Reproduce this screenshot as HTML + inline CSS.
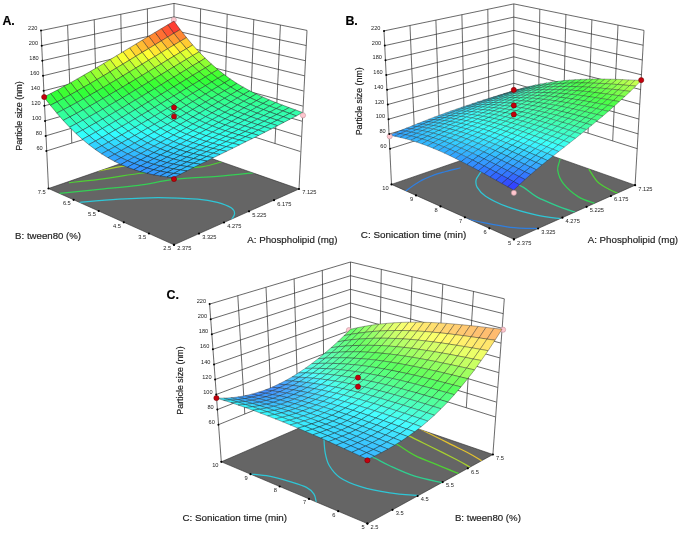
<!DOCTYPE html>
<html><head><meta charset="utf-8"><title>Response surface plots</title>
<style>html,body{margin:0;padding:0;background:#fff}svg{display:block;font-family:"Liberation Sans",sans-serif}</style>
</head><body>
<svg width="685" height="534" viewBox="0 0 685 534">
<defs><filter id="soft" x="0" y="0" width="685" height="534" filterUnits="userSpaceOnUse"><feGaussianBlur stdDeviation="0.45"/></filter></defs>
<rect width="685" height="534" fill="#fff"/>
<g filter="url(#soft)">
<g stroke="#2a2a2a" stroke-width="0.7" fill="none">
<line x1="41.0" y1="30.6" x2="48.5" y2="188.5" />
<line x1="307.0" y1="30.4" x2="299.0" y2="189.0" />
<line x1="67.6" y1="25.2" x2="71.8" y2="143.1" />
<line x1="280.4" y1="25.0" x2="275.0" y2="143.5" />
<line x1="94.2" y1="19.7" x2="97.3" y2="135.2" />
<line x1="253.8" y1="19.6" x2="249.7" y2="135.5" />
<line x1="120.8" y1="14.3" x2="122.8" y2="127.3" />
<line x1="227.2" y1="14.2" x2="224.4" y2="127.5" />
<line x1="147.4" y1="8.8" x2="148.3" y2="119.4" />
<line x1="200.6" y1="8.8" x2="199.1" y2="119.5" />
<line x1="174.0" y1="3.4" x2="173.8" y2="145.3" />
<line x1="46.3" y1="151.0" x2="173.8" y2="111.5" />
<line x1="173.8" y1="111.5" x2="300.3" y2="151.5" />
<line x1="45.6" y1="135.9" x2="173.8" y2="98.0" />
<line x1="173.8" y1="98.0" x2="301.1" y2="136.4" />
<line x1="45.0" y1="120.9" x2="173.9" y2="84.5" />
<line x1="173.9" y1="84.5" x2="302.0" y2="121.2" />
<line x1="44.3" y1="105.8" x2="173.9" y2="71.0" />
<line x1="173.9" y1="71.0" x2="302.8" y2="106.1" />
<line x1="43.6" y1="90.8" x2="173.9" y2="57.4" />
<line x1="173.9" y1="57.4" x2="303.6" y2="91.0" />
<line x1="43.0" y1="75.8" x2="173.9" y2="43.9" />
<line x1="173.9" y1="43.9" x2="304.5" y2="75.8" />
<line x1="42.3" y1="60.7" x2="174.0" y2="30.4" />
<line x1="174.0" y1="30.4" x2="305.3" y2="60.7" />
<line x1="41.7" y1="45.7" x2="174.0" y2="16.9" />
<line x1="174.0" y1="16.9" x2="306.2" y2="45.5" />
<line x1="41.0" y1="30.6" x2="174.0" y2="3.4" />
<line x1="174.0" y1="3.4" x2="307.0" y2="30.4" />
</g>
<polygon points="174.0,244.8 299.0,189.0 173.8,145.3 48.5,188.5" fill="#656565" stroke="#2a2a2a" stroke-width="0.6" stroke-linejoin="round"/>
<clipPath id="clipA"><polygon points="174.0,244.8 299.0,189.0 173.8,145.3 48.5,188.5"/></clipPath>
<g clip-path="url(#clipA)">
<path d="M79.4,202.5 C86.0,201.9 105.7,199.9 118.8,199.1 C131.9,198.3 145.0,197.5 158.2,197.5 C171.3,197.5 187.8,198.3 197.7,199.1 C207.6,199.9 211.8,200.9 217.4,202.3 C223.0,203.8 228.3,205.9 231.2,207.8 C234.1,209.7 234.5,211.5 234.6,213.5 C234.7,215.5 232.1,218.6 231.6,219.6" fill="none" stroke="#2fc6d6" stroke-width="1.25" stroke-linecap="round"/>
<path d="M59.7,193.4 C66.3,192.7 86.0,190.7 99.1,189.3 C112.2,188.0 126.0,187.0 138.5,185.3 C151.0,183.7 160.8,180.9 174.0,179.4 C187.2,177.9 204.3,177.4 217.4,176.3 C230.5,175.2 246.9,173.4 252.8,172.8" fill="none" stroke="#35cf55" stroke-width="1.25" stroke-linecap="round"/>
<path d="M69.6,182.6 C74.5,182.1 87.6,180.9 99.1,179.4 C110.6,177.9 126.7,175.2 138.5,173.5 C150.3,171.8 159.5,170.1 170.0,169.0 C180.5,167.9 193.0,168.0 201.6,166.8 C210.2,165.6 218.0,162.8 221.3,162.0" fill="none" stroke="#4fd035" stroke-width="1.25" stroke-linecap="round"/>
<path d="M99.0,170.9 C102.3,170.2 112.8,167.8 118.8,166.8 C124.8,165.8 128.1,165.5 135.0,165.0 C141.9,164.5 155.8,164.2 160.0,164.0" fill="none" stroke="#a6d02f" stroke-width="1.25" stroke-linecap="round"/>
</g>
<circle cx="174.0" cy="244.8" r="1.1" fill="#000"/>
<circle cx="174.0" cy="244.8" r="1.1" fill="#000"/>
<circle cx="199.0" cy="233.6" r="1.1" fill="#000"/>
<circle cx="148.9" cy="233.5" r="1.1" fill="#000"/>
<circle cx="224.0" cy="222.5" r="1.1" fill="#000"/>
<circle cx="123.8" cy="222.3" r="1.1" fill="#000"/>
<circle cx="249.0" cy="211.3" r="1.1" fill="#000"/>
<circle cx="98.7" cy="211.0" r="1.1" fill="#000"/>
<circle cx="274.0" cy="200.2" r="1.1" fill="#000"/>
<circle cx="73.6" cy="199.8" r="1.1" fill="#000"/>
<circle cx="299.0" cy="189.0" r="1.1" fill="#000"/>
<circle cx="48.5" cy="188.5" r="1.1" fill="#000"/>
<circle cx="173.8" cy="19.9" r="2.6" fill="#ffc6ce" stroke="#b58c94" stroke-width="0.5"/>
<g stroke="#1a1a1a" stroke-opacity="0.85" stroke-width="0.5" stroke-linejoin="round">
<polygon points="173.9,33.3 180.2,29.6 174.0,21.1 167.7,24.8" fill="#ff3d32"/>
<polygon points="167.6,37.1 173.9,33.3 167.7,24.8 161.4,28.6" fill="#ff5633"/>
<polygon points="180.2,41.3 186.5,37.6 180.2,29.6 173.9,33.3" fill="#ff8733"/>
<polygon points="161.3,40.9 167.6,37.1 161.4,28.6 155.0,32.4" fill="#ff6f32"/>
<polygon points="173.9,45.0 180.2,41.3 173.9,33.3 167.6,37.1" fill="#ff9f33"/>
<polygon points="186.5,48.7 192.7,45.0 186.5,37.6 180.2,41.3" fill="#ffcb32"/>
<polygon points="167.6,48.8 173.9,45.0 167.6,37.1 161.3,40.9" fill="#ffb733"/>
<polygon points="180.2,52.4 186.5,48.7 180.2,41.3 173.9,45.0" fill="#ffe133"/>
<polygon points="155.0,44.7 161.3,40.9 155.0,32.4 148.7,36.2" fill="#ff8832"/>
<polygon points="192.7,55.6 199.0,51.9 192.7,45.0 186.5,48.7" fill="#f6ff32"/>
<polygon points="148.6,48.6 155.0,44.7 148.7,36.2 142.3,40.1" fill="#ffa232"/>
<polygon points="161.3,52.6 167.6,48.8 161.3,40.9 155.0,44.7" fill="#ffcf32"/>
<polygon points="173.9,56.2 180.2,52.4 173.9,45.0 167.6,48.8" fill="#fff832"/>
<polygon points="186.4,59.3 192.7,55.6 186.5,48.7 180.2,52.4" fill="#e0ff32"/>
<polygon points="199.0,62.0 205.2,58.2 199.0,51.9 192.7,55.6" fill="#bfff32"/>
<polygon points="154.9,56.5 161.3,52.6 155.0,44.7 148.6,48.6" fill="#ffe733"/>
<polygon points="192.7,65.7 199.0,62.0 192.7,55.6 186.4,59.3" fill="#abff33"/>
<polygon points="142.2,52.4 148.6,48.6 142.3,40.1 135.9,44.0" fill="#ffbb32"/>
<polygon points="167.5,60.0 173.9,56.2 167.6,48.8 161.3,52.6" fill="#efff32"/>
<polygon points="180.2,63.1 186.4,59.3 180.2,52.4 173.9,56.2" fill="#cbff32"/>
<polygon points="205.3,67.9 211.5,64.1 205.2,58.2 199.0,62.0" fill="#8fff32"/>
<polygon points="135.8,56.3 142.2,52.4 135.9,44.0 129.5,47.9" fill="#ffd432"/>
<polygon points="148.5,60.3 154.9,56.5 148.6,48.6 142.2,52.4" fill="#fffe33"/>
<polygon points="161.2,63.9 167.5,60.0 161.3,52.6 154.9,56.5" fill="#d8ff32"/>
<polygon points="173.8,66.9 180.2,63.1 173.9,56.2 167.5,60.0" fill="#b5ff32"/>
<polygon points="186.4,69.5 192.7,65.7 186.4,59.3 180.2,63.1" fill="#97ff32"/>
<polygon points="199.0,71.6 205.3,67.9 199.0,62.0 192.7,65.7" fill="#7cff33"/>
<polygon points="211.6,73.3 217.8,69.6 211.5,64.1 205.3,67.9" fill="#64ff32"/>
<polygon points="129.4,60.2 135.8,56.3 129.5,47.9 123.0,51.8" fill="#ffec32"/>
<polygon points="142.1,64.2 148.5,60.3 142.2,52.4 135.8,56.3" fill="#e7ff33"/>
<polygon points="154.8,67.7 161.2,63.9 154.9,56.5 148.5,60.3" fill="#c1ff32"/>
<polygon points="167.5,70.7 173.8,66.9 167.5,60.0 161.2,63.9" fill="#a0ff32"/>
<polygon points="180.1,73.3 186.4,69.5 180.2,63.1 173.8,66.9" fill="#82ff32"/>
<polygon points="192.7,75.4 199.0,71.6 192.7,65.7 186.4,69.5" fill="#68ff32"/>
<polygon points="205.3,77.0 211.6,73.3 205.3,67.9 199.0,71.6" fill="#55ff32"/>
<polygon points="217.9,78.3 224.2,74.6 217.8,69.6 211.6,73.3" fill="#47ff32"/>
<polygon points="135.7,68.1 142.1,64.2 135.8,56.3 129.4,60.2" fill="#cfff33"/>
<polygon points="148.4,71.6 154.8,67.7 148.5,60.3 142.1,64.2" fill="#abff32"/>
<polygon points="173.8,77.1 180.1,73.3 173.8,66.9 167.5,70.7" fill="#6eff32"/>
<polygon points="199.1,80.8 205.3,77.0 199.0,71.6 192.7,75.4" fill="#47ff32"/>
<polygon points="211.7,82.0 217.9,78.3 211.6,73.3 205.3,77.0" fill="#39ff33"/>
<polygon points="122.9,64.1 129.4,60.2 123.0,51.8 116.6,55.7" fill="#f8ff32"/>
<polygon points="161.1,74.6 167.5,70.7 161.2,63.9 154.8,67.7" fill="#8aff32"/>
<polygon points="186.4,79.2 192.7,75.4 186.4,69.5 180.1,73.3" fill="#58ff32"/>
<polygon points="224.3,82.9 230.5,79.2 224.2,74.6 217.9,78.3" fill="#32ff37"/>
<polygon points="116.4,68.0 122.9,64.1 116.6,55.7 110.1,59.6" fill="#e0ff32"/>
<polygon points="129.3,72.0 135.7,68.1 129.4,60.2 122.9,64.1" fill="#b8ff33"/>
<polygon points="142.0,75.5 148.4,71.6 142.1,64.2 135.7,68.1" fill="#94ff32"/>
<polygon points="154.7,78.4 161.1,74.6 154.8,67.7 148.4,71.6" fill="#74ff32"/>
<polygon points="167.4,80.9 173.8,77.1 167.5,70.7 161.1,74.6" fill="#5bff32"/>
<polygon points="180.1,83.0 186.4,79.2 180.1,73.3 173.8,77.1" fill="#49ff32"/>
<polygon points="192.8,84.6 199.1,80.8 192.7,75.4 186.4,79.2" fill="#39ff32"/>
<polygon points="205.4,85.8 211.7,82.0 205.3,77.0 199.1,80.8" fill="#32ff39"/>
<polygon points="218.0,86.6 224.3,82.9 217.9,78.3 211.7,82.0" fill="#32ff44"/>
<polygon points="230.7,87.1 236.9,83.4 230.5,79.2 224.3,82.9" fill="#32ff4d"/>
<polygon points="122.8,75.9 129.3,72.0 122.9,64.1 116.4,68.0" fill="#a0ff33"/>
<polygon points="161.1,84.8 167.4,80.9 161.1,74.6 154.7,78.4" fill="#4bff32"/>
<polygon points="186.4,88.4 192.8,84.6 186.4,79.2 180.1,83.0" fill="#32ff3b"/>
<polygon points="224.4,90.8 230.7,87.1 224.3,82.9 218.0,86.6" fill="#33ff59"/>
<polygon points="110.0,71.9 116.4,68.0 110.1,59.6 103.6,63.5" fill="#c8ff32"/>
<polygon points="135.6,79.3 142.0,75.5 135.7,68.1 129.3,72.0" fill="#7dff32"/>
<polygon points="148.3,82.3 154.7,78.4 148.4,71.6 142.0,75.5" fill="#60ff32"/>
<polygon points="173.8,86.8 180.1,83.0 173.8,77.1 167.4,80.9" fill="#39ff32"/>
<polygon points="199.1,89.5 205.4,85.8 199.1,80.8 192.8,84.6" fill="#32ff47"/>
<polygon points="211.8,90.3 218.0,86.6 211.7,82.0 205.4,85.8" fill="#32ff51"/>
<polygon points="237.1,90.9 243.3,87.2 236.9,83.4 230.7,87.1" fill="#32ff5f"/>
<polygon points="103.4,75.8 110.0,71.9 103.6,63.5 97.1,67.4" fill="#b0ff32"/>
<polygon points="116.3,79.8 122.8,75.9 116.4,68.0 110.0,71.9" fill="#89ff33"/>
<polygon points="129.1,83.2 135.6,79.3 129.3,72.0 122.8,75.9" fill="#67ff32"/>
<polygon points="141.9,86.1 148.3,82.3 142.0,75.5 135.6,79.3" fill="#4fff32"/>
<polygon points="154.7,88.6 161.1,84.8 154.7,78.4 148.3,82.3" fill="#3bff32"/>
<polygon points="167.4,90.6 173.8,86.8 167.4,80.9 161.1,84.8" fill="#32ff3b"/>
<polygon points="180.1,92.2 186.4,88.4 180.1,83.0 173.8,86.8" fill="#32ff49"/>
<polygon points="192.8,93.3 199.1,89.5 192.8,84.6 186.4,88.4" fill="#32ff55"/>
<polygon points="205.5,94.1 211.8,90.3 205.4,85.8 199.1,89.5" fill="#32ff5f"/>
<polygon points="218.1,94.5 224.4,90.8 218.0,86.6 211.8,90.3" fill="#32ff66"/>
<polygon points="230.8,94.6 237.1,90.9 230.7,87.1 224.4,90.8" fill="#33ff6b"/>
<polygon points="243.5,94.4 249.7,90.8 243.3,87.2 237.1,90.9" fill="#32ff6f"/>
<polygon points="96.9,79.6 103.4,75.8 97.1,67.4 90.5,71.3" fill="#9aff32"/>
<polygon points="109.8,83.6 116.3,79.8 110.0,71.9 103.4,75.8" fill="#73ff33"/>
<polygon points="122.6,87.1 129.1,83.2 122.8,75.9 116.3,79.8" fill="#55ff32"/>
<polygon points="135.4,90.0 141.9,86.1 135.6,79.3 129.1,83.2" fill="#3eff32"/>
<polygon points="148.2,92.4 154.7,88.6 148.3,82.3 141.9,86.1" fill="#32ff3a"/>
<polygon points="161.0,94.4 167.4,90.6 161.1,84.8 154.7,88.6" fill="#32ff4b"/>
<polygon points="173.7,96.0 180.1,92.2 173.8,86.8 167.4,90.6" fill="#32ff58"/>
<polygon points="186.4,97.1 192.8,93.3 186.4,88.4 180.1,92.2" fill="#32ff63"/>
<polygon points="199.1,97.8 205.5,94.1 199.1,89.5 192.8,93.3" fill="#32ff6c"/>
<polygon points="211.9,98.2 218.1,94.5 211.8,90.3 205.5,94.1" fill="#32ff73"/>
<polygon points="224.6,98.3 230.8,94.6 224.4,90.8 218.1,94.5" fill="#32ff77"/>
<polygon points="237.3,98.1 243.5,94.4 237.1,90.9 230.8,94.6" fill="#33ff7a"/>
<polygon points="250.0,97.7 256.2,94.0 249.7,90.8 243.5,94.4" fill="#32ff7c"/>
<polygon points="90.3,83.5 96.9,79.6 90.5,71.3 83.9,75.1" fill="#83ff32"/>
<polygon points="103.2,87.5 109.8,83.6 103.4,75.8 96.9,79.6" fill="#5eff33"/>
<polygon points="116.1,90.9 122.6,87.1 116.3,79.8 109.8,83.6" fill="#44ff32"/>
<polygon points="141.8,96.3 148.2,92.4 141.9,86.1 135.4,90.0" fill="#32ff4a"/>
<polygon points="167.3,99.8 173.7,96.0 167.4,90.6 161.0,94.4" fill="#32ff67"/>
<polygon points="180.1,100.9 186.4,97.1 180.1,92.2 173.7,96.0" fill="#32ff71"/>
<polygon points="205.5,102.0 211.9,98.2 205.5,94.1 199.1,97.8" fill="#32ff7f"/>
<polygon points="231.0,101.8 237.3,98.1 230.8,94.6 224.6,98.3" fill="#32ff86"/>
<polygon points="243.7,101.3 250.0,97.7 243.5,94.4 237.3,98.1" fill="#33ff87"/>
<polygon points="256.5,100.7 262.7,97.0 256.2,94.0 250.0,97.7" fill="#32ff86"/>
<polygon points="129.0,93.8 135.4,90.0 129.1,83.2 122.6,87.1" fill="#32ff37"/>
<polygon points="154.6,98.3 161.0,94.4 154.7,88.6 148.2,92.4" fill="#32ff5a"/>
<polygon points="192.8,101.6 199.1,97.8 192.8,93.3 186.4,97.1" fill="#32ff79"/>
<polygon points="218.3,102.0 224.6,98.3 218.1,94.5 211.9,98.2" fill="#32ff83"/>
<polygon points="83.7,87.2 90.3,83.5 83.9,75.1 77.3,78.9" fill="#6dff32"/>
<polygon points="96.7,91.3 103.2,87.5 96.9,79.6 90.3,83.5" fill="#4dff33"/>
<polygon points="109.6,94.7 116.1,90.9 109.8,83.6 103.2,87.5" fill="#33ff32"/>
<polygon points="122.5,97.7 129.0,93.8 122.6,87.1 116.1,90.9" fill="#32ff48"/>
<polygon points="135.3,100.1 141.8,96.3 135.4,90.0 129.0,93.8" fill="#32ff5a"/>
<polygon points="148.1,102.1 154.6,98.3 148.2,92.4 141.8,96.3" fill="#32ff69"/>
<polygon points="160.9,103.6 167.3,99.8 161.0,94.4 154.6,98.3" fill="#32ff76"/>
<polygon points="173.7,104.7 180.1,100.9 173.7,96.0 167.3,99.8" fill="#32ff80"/>
<polygon points="186.4,105.4 192.8,101.6 186.4,97.1 180.1,100.9" fill="#32ff87"/>
<polygon points="199.2,105.7 205.5,102.0 199.1,97.8 192.8,101.6" fill="#32ff8c"/>
<polygon points="212.0,105.7 218.3,102.0 211.9,98.2 205.5,102.0" fill="#32ff90"/>
<polygon points="224.7,105.5 231.0,101.8 224.6,98.3 218.3,102.0" fill="#32ff92"/>
<polygon points="237.5,105.0 243.7,101.3 237.3,98.1 231.0,101.8" fill="#32ff92"/>
<polygon points="250.3,104.3 256.5,100.7 250.0,97.7 243.7,101.3" fill="#33ff91"/>
<polygon points="263.0,103.5 269.3,99.9 262.7,97.0 256.5,100.7" fill="#32ff8f"/>
<polygon points="90.1,95.0 96.7,91.3 90.3,83.5 83.7,87.2" fill="#3dff33"/>
<polygon points="154.5,107.4 160.9,103.6 154.6,98.3 148.1,102.1" fill="#32ff85"/>
<polygon points="192.8,109.5 199.2,105.7 192.8,101.6 186.4,105.4" fill="#32ff99"/>
<polygon points="256.8,107.1 263.0,103.5 256.5,100.7 250.3,104.3" fill="#33ff99"/>
<polygon points="77.1,91.0 83.7,87.2 77.3,78.9 70.7,82.7" fill="#5bff32"/>
<polygon points="103.0,98.5 109.6,94.7 103.2,87.5 96.7,91.3" fill="#32ff42"/>
<polygon points="115.9,101.5 122.5,97.7 116.1,90.9 109.6,94.7" fill="#32ff58"/>
<polygon points="128.8,103.9 135.3,100.1 129.0,93.8 122.5,97.7" fill="#32ff6a"/>
<polygon points="141.7,105.9 148.1,102.1 141.8,96.3 135.3,100.1" fill="#32ff79"/>
<polygon points="167.3,108.5 173.7,104.7 167.3,99.8 160.9,103.6" fill="#32ff8e"/>
<polygon points="180.1,109.2 186.4,105.4 180.1,100.9 173.7,104.7" fill="#32ff95"/>
<polygon points="205.6,109.5 212.0,105.7 205.5,102.0 199.2,105.7" fill="#32ff9c"/>
<polygon points="218.4,109.2 224.7,105.5 218.3,102.0 212.0,105.7" fill="#32ff9d"/>
<polygon points="231.2,108.7 237.5,105.0 231.0,101.8 224.7,105.5" fill="#32ff9d"/>
<polygon points="244.0,107.9 250.3,104.3 243.7,101.3 237.5,105.0" fill="#32ff9c"/>
<polygon points="269.6,106.1 275.8,102.5 269.3,99.9 263.0,103.5" fill="#32ff96"/>
<polygon points="83.5,98.8 90.1,95.0 83.7,87.2 77.1,91.0" fill="#32ff38"/>
<polygon points="263.4,109.6 269.6,106.1 263.0,103.5 256.8,107.1" fill="#32ffa0"/>
<polygon points="70.5,94.7 77.1,91.0 70.7,82.7 64.0,86.3" fill="#4bff32"/>
<polygon points="96.5,102.3 103.0,98.5 96.7,91.3 90.1,95.0" fill="#32ff52"/>
<polygon points="109.4,105.3 115.9,101.5 109.6,94.7 103.0,98.5" fill="#32ff67"/>
<polygon points="122.3,107.8 128.8,103.9 122.5,97.7 115.9,101.5" fill="#32ff79"/>
<polygon points="135.2,109.7 141.7,105.9 135.3,100.1 128.8,103.9" fill="#32ff88"/>
<polygon points="148.0,111.2 154.5,107.4 148.1,102.1 141.7,105.9" fill="#32ff93"/>
<polygon points="160.8,112.3 167.3,108.5 160.9,103.6 154.5,107.4" fill="#32ff9c"/>
<polygon points="173.7,112.9 180.1,109.2 173.7,104.7 167.3,108.5" fill="#32ffa3"/>
<polygon points="186.5,113.2 192.8,109.5 186.4,105.4 180.1,109.2" fill="#32ffa7"/>
<polygon points="199.3,113.2 205.6,109.5 199.2,105.7 192.8,109.5" fill="#32ffa9"/>
<polygon points="212.1,112.9 218.4,109.2 212.0,105.7 205.6,109.5" fill="#32ffa9"/>
<polygon points="224.9,112.3 231.2,108.7 224.7,105.5 218.4,109.2" fill="#32ffa8"/>
<polygon points="237.7,111.6 244.0,107.9 237.5,105.0 231.2,108.7" fill="#32ffa6"/>
<polygon points="250.6,110.6 256.8,107.1 250.3,104.3 244.0,107.9" fill="#32ffa3"/>
<polygon points="276.2,108.6 282.4,105.1 275.8,102.5 269.6,106.1" fill="#32ff9c"/>
<polygon points="63.8,98.3 70.5,94.7 64.0,86.3 57.4,90.0" fill="#3cff33"/>
<polygon points="76.9,102.5 83.5,98.8 77.1,91.0 70.5,94.7" fill="#33ff47"/>
<polygon points="89.9,106.0 96.5,102.3 90.1,95.0 83.5,98.8" fill="#32ff61"/>
<polygon points="102.8,109.1 109.4,105.3 103.0,98.5 96.5,102.3" fill="#32ff77"/>
<polygon points="115.8,111.5 122.3,107.8 115.9,101.5 109.4,105.3" fill="#32ff89"/>
<polygon points="128.7,113.5 135.2,109.7 128.8,103.9 122.3,107.8" fill="#32ff97"/>
<polygon points="141.5,115.0 148.0,111.2 141.7,105.9 135.2,109.7" fill="#32ffa2"/>
<polygon points="154.4,116.1 160.8,112.3 154.5,107.4 148.0,111.2" fill="#32ffab"/>
<polygon points="167.2,116.7 173.7,112.9 167.3,108.5 160.8,112.3" fill="#32ffb0"/>
<polygon points="180.1,117.0 186.5,113.2 180.1,109.2 173.7,112.9" fill="#32ffb4"/>
<polygon points="192.9,116.9 199.3,113.2 192.8,109.5 186.5,113.2" fill="#32ffb6"/>
<polygon points="205.7,116.6 212.1,112.9 205.6,109.5 199.3,113.2" fill="#32ffb5"/>
<polygon points="218.6,116.0 224.9,112.3 218.4,109.2 212.1,112.9" fill="#32ffb4"/>
<polygon points="231.4,115.2 237.7,111.6 231.2,108.7 224.9,112.3" fill="#32ffb1"/>
<polygon points="244.3,114.2 250.6,110.6 244.0,107.9 237.7,111.6" fill="#32ffae"/>
<polygon points="257.1,113.2 263.4,109.6 256.8,107.1 250.6,110.6" fill="#32ffaa"/>
<polygon points="270.0,112.1 276.2,108.6 269.6,106.1 263.4,109.6" fill="#33ffa5"/>
<polygon points="282.9,111.0 289.1,107.6 282.4,105.1 276.2,108.6" fill="#33ffa1"/>
<polygon points="57.1,101.8 63.8,98.3 57.4,90.0 50.7,93.5" fill="#32ff37"/>
<polygon points="70.2,106.1 76.9,102.5 70.5,94.7 63.8,98.3" fill="#33ff56"/>
<polygon points="83.2,109.7 89.9,106.0 83.5,98.8 76.9,102.5" fill="#32ff70"/>
<polygon points="96.2,112.8 102.8,109.1 96.5,102.3 89.9,106.0" fill="#32ff86"/>
<polygon points="109.2,115.3 115.8,111.5 109.4,105.3 102.8,109.1" fill="#32ff98"/>
<polygon points="122.1,117.3 128.7,113.5 122.3,107.8 115.8,111.5" fill="#32ffa6"/>
<polygon points="135.0,118.8 141.5,115.0 135.2,109.7 128.7,113.5" fill="#32ffb1"/>
<polygon points="147.9,119.9 154.4,116.1 148.0,111.2 141.5,115.0" fill="#32ffb9"/>
<polygon points="173.6,120.7 180.1,117.0 173.7,112.9 167.2,116.7" fill="#32ffc1"/>
<polygon points="199.4,120.3 205.7,116.6 199.3,113.2 192.9,116.9" fill="#32ffc2"/>
<polygon points="212.2,119.6 218.6,116.0 212.1,112.9 205.7,116.6" fill="#32ffc0"/>
<polygon points="225.1,118.8 231.4,115.2 224.9,112.3 218.6,116.0" fill="#32ffbd"/>
<polygon points="238.0,117.8 244.3,114.2 237.7,111.6 231.4,115.2" fill="#32ffb9"/>
<polygon points="250.9,116.7 257.1,113.2 250.6,110.6 244.3,114.2" fill="#32ffb4"/>
<polygon points="263.8,115.6 270.0,112.1 263.4,109.6 257.1,113.2" fill="#32ffaf"/>
<polygon points="276.7,114.5 282.9,111.0 276.2,108.6 270.0,112.1" fill="#33ffaa"/>
<polygon points="289.6,113.4 295.8,110.0 289.1,107.6 282.9,111.0" fill="#32ffa5"/>
<polygon points="160.8,120.5 167.2,116.7 160.8,112.3 154.4,116.1" fill="#32ffbe"/>
<polygon points="186.5,120.7 192.9,116.9 186.5,113.2 180.1,117.0" fill="#32ffc2"/>
<polygon points="50.4,105.3 57.1,101.8 50.7,93.5 43.9,97.0" fill="#32ff44"/>
<polygon points="63.5,109.6 70.2,106.1 63.8,98.3 57.1,101.8" fill="#32ff64"/>
<polygon points="76.6,113.4 83.2,109.7 76.9,102.5 70.2,106.1" fill="#33ff7f"/>
<polygon points="89.6,116.5 96.2,112.8 89.9,106.0 83.2,109.7" fill="#32ff95"/>
<polygon points="102.6,119.0 109.2,115.3 102.8,109.1 96.2,112.8" fill="#32ffa7"/>
<polygon points="115.6,121.0 122.1,117.3 115.8,111.5 109.2,115.3" fill="#32ffb5"/>
<polygon points="128.5,122.6 135.0,118.8 128.7,113.5 122.1,117.3" fill="#32ffc0"/>
<polygon points="141.4,123.6 147.9,119.9 141.5,115.0 135.0,118.8" fill="#32ffc7"/>
<polygon points="154.3,124.3 160.8,120.5 154.4,116.1 147.9,119.9" fill="#32ffcc"/>
<polygon points="167.2,124.5 173.6,120.7 167.2,116.7 160.8,120.5" fill="#32ffcf"/>
<polygon points="180.1,124.4 186.5,120.7 180.1,117.0 173.6,120.7" fill="#32ffcf"/>
<polygon points="192.9,124.0 199.4,120.3 192.9,116.9 186.5,120.7" fill="#32ffce"/>
<polygon points="205.8,123.3 212.2,119.6 205.7,116.6 199.4,120.3" fill="#32ffcb"/>
<polygon points="218.7,122.4 225.1,118.8 218.6,116.0 212.2,119.6" fill="#32ffc8"/>
<polygon points="231.6,121.4 238.0,117.8 231.4,115.2 225.1,118.8" fill="#32ffc3"/>
<polygon points="244.6,120.2 250.9,116.7 244.3,114.2 238.0,117.8" fill="#32ffbe"/>
<polygon points="257.5,119.1 263.8,115.6 257.1,113.2 250.9,116.7" fill="#32ffb9"/>
<polygon points="270.4,117.9 276.7,114.5 270.0,112.1 263.8,115.6" fill="#33ffb3"/>
<polygon points="283.3,116.8 289.6,113.4 282.9,111.0 276.7,114.5" fill="#32ffae"/>
<polygon points="296.3,115.9 302.5,112.5 295.8,110.0 289.6,113.4" fill="#32ffaa"/>
<polygon points="56.8,113.1 63.5,109.6 57.1,101.8 50.4,105.3" fill="#33ff72"/>
<polygon points="121.9,126.3 128.5,122.6 122.1,117.3 115.6,121.0" fill="#32ffce"/>
<polygon points="225.3,125.0 231.6,121.4 225.1,118.8 218.7,122.4" fill="#32ffce"/>
<polygon points="290.0,119.2 296.3,115.9 289.6,113.4 283.3,116.8" fill="#33ffb3"/>
<polygon points="69.9,116.9 76.6,113.4 70.2,106.1 63.5,109.6" fill="#32ff8d"/>
<polygon points="83.0,120.1 89.6,116.5 83.2,109.7 76.6,113.4" fill="#32ffa4"/>
<polygon points="96.0,122.7 102.6,119.0 96.2,112.8 89.6,116.5" fill="#32ffb6"/>
<polygon points="109.0,124.8 115.6,121.0 109.2,115.3 102.6,119.0" fill="#32ffc4"/>
<polygon points="134.9,127.4 141.4,123.6 135.0,118.8 128.5,122.6" fill="#32ffd6"/>
<polygon points="147.8,128.0 154.3,124.3 147.9,119.9 141.4,123.6" fill="#32ffda"/>
<polygon points="160.7,128.2 167.2,124.5 160.8,120.5 154.3,124.3" fill="#32ffdc"/>
<polygon points="173.6,128.1 180.1,124.4 173.6,120.7 167.2,124.5" fill="#32ffdc"/>
<polygon points="186.5,127.7 192.9,124.0 186.5,120.7 180.1,124.4" fill="#32ffdb"/>
<polygon points="199.4,127.0 205.8,123.3 199.4,120.3 192.9,124.0" fill="#32ffd7"/>
<polygon points="212.4,126.0 218.7,122.4 212.2,119.6 205.8,123.3" fill="#32ffd3"/>
<polygon points="238.2,123.8 244.6,120.2 238.0,117.8 231.6,121.4" fill="#32ffc8"/>
<polygon points="251.2,122.5 257.5,119.1 250.9,116.7 244.6,120.2" fill="#32ffc2"/>
<polygon points="264.1,121.3 270.4,117.9 263.8,115.6 257.5,119.1" fill="#32ffbd"/>
<polygon points="277.1,120.2 283.3,116.8 276.7,114.5 270.4,117.9" fill="#32ffb7"/>
<polygon points="63.2,120.4 69.9,116.9 63.5,109.6 56.8,113.1" fill="#32ff9b"/>
<polygon points="89.3,126.4 96.0,122.7 89.6,116.5 83.0,120.1" fill="#33ffc4"/>
<polygon points="115.3,130.0 121.9,126.3 115.6,121.0 109.0,124.8" fill="#32ffdd"/>
<polygon points="128.3,131.1 134.9,127.4 128.5,122.6 121.9,126.3" fill="#32ffe4"/>
<polygon points="154.2,132.0 160.7,128.2 154.3,124.3 147.8,128.0" fill="#32ffea"/>
<polygon points="193.0,130.6 199.4,127.0 192.9,124.0 186.5,127.7" fill="#32ffe3"/>
<polygon points="218.9,128.5 225.3,125.0 218.7,122.4 212.4,126.0" fill="#32ffd9"/>
<polygon points="231.9,127.3 238.2,123.8 231.6,121.4 225.3,125.0" fill="#32ffd3"/>
<polygon points="257.8,124.7 264.1,121.3 257.5,119.1 251.2,122.5" fill="#33ffc6"/>
<polygon points="283.8,122.4 290.0,119.2 283.3,116.8 277.1,120.2" fill="#32ffbb"/>
<polygon points="76.3,123.7 83.0,120.1 76.6,113.4 69.9,116.9" fill="#32ffb2"/>
<polygon points="102.4,128.5 109.0,124.8 102.6,119.0 96.0,122.7" fill="#32ffd2"/>
<polygon points="141.3,131.8 147.8,128.0 141.4,123.6 134.9,127.4" fill="#32ffe8"/>
<polygon points="167.1,131.8 173.6,128.1 167.2,124.5 160.7,128.2" fill="#32ffea"/>
<polygon points="180.1,131.4 186.5,127.7 180.1,124.4 173.6,128.1" fill="#32ffe7"/>
<polygon points="206.0,129.7 212.4,126.0 205.8,123.3 199.4,127.0" fill="#32ffdf"/>
<polygon points="244.9,126.0 251.2,122.5 244.6,120.2 238.2,123.8" fill="#32ffcc"/>
<polygon points="270.8,123.5 277.1,120.2 270.4,117.9 264.1,121.3" fill="#32ffc0"/>
<polygon points="108.7,133.7 115.3,130.0 109.0,124.8 102.4,128.5" fill="#32ffeb"/>
<polygon points="147.7,135.7 154.2,132.0 147.8,128.0 141.3,131.8" fill="#32fff8"/>
<polygon points="199.5,133.3 206.0,129.7 199.4,127.0 193.0,130.6" fill="#32ffea"/>
<polygon points="238.5,129.5 244.9,126.0 238.2,123.8 231.9,127.3" fill="#32ffd6"/>
<polygon points="69.6,127.2 76.3,123.7 69.9,116.9 63.2,120.4" fill="#32ffbf"/>
<polygon points="82.7,130.0 89.3,126.4 83.0,120.1 76.3,123.7" fill="#32ffd2"/>
<polygon points="95.7,132.1 102.4,128.5 96.0,122.7 89.3,126.4" fill="#33ffe1"/>
<polygon points="121.7,134.9 128.3,131.1 121.9,126.3 115.3,130.0" fill="#32fff2"/>
<polygon points="134.7,135.5 141.3,131.8 134.9,127.4 128.3,131.1" fill="#32fff6"/>
<polygon points="160.6,135.6 167.1,131.8 160.7,128.2 154.2,132.0" fill="#32fff7"/>
<polygon points="173.6,135.1 180.1,131.4 173.6,128.1 167.1,131.8" fill="#32fff4"/>
<polygon points="186.6,134.3 193.0,130.6 186.5,127.7 180.1,131.4" fill="#32fff0"/>
<polygon points="212.5,132.1 218.9,128.5 212.4,126.0 206.0,129.7" fill="#32ffe4"/>
<polygon points="225.5,130.8 231.9,127.3 225.3,125.0 218.9,128.5" fill="#32ffdd"/>
<polygon points="251.5,128.1 257.8,124.7 251.2,122.5 244.9,126.0" fill="#33ffcf"/>
<polygon points="264.5,126.8 270.8,123.5 264.1,121.3 257.8,124.7" fill="#32ffc9"/>
<polygon points="277.5,125.7 283.8,122.4 277.1,120.2 270.8,123.5" fill="#32ffc4"/>
<polygon points="76.0,133.5 82.7,130.0 76.3,123.7 69.6,127.2" fill="#32ffe0"/>
<polygon points="102.1,137.4 108.7,133.7 102.4,128.5 95.7,132.1" fill="#32fffa"/>
<polygon points="115.1,138.5 121.7,134.9 115.3,130.0 108.7,133.7" fill="#32fcff"/>
<polygon points="141.1,139.4 147.7,135.7 141.3,131.8 134.7,135.5" fill="#32f8ff"/>
<polygon points="154.1,139.3 160.6,135.6 154.2,132.0 147.7,135.7" fill="#32f9ff"/>
<polygon points="167.1,138.8 173.6,135.1 167.1,131.8 160.6,135.6" fill="#32fcff"/>
<polygon points="180.1,138.0 186.6,134.3 180.1,131.4 173.6,135.1" fill="#32fffc"/>
<polygon points="193.1,136.9 199.5,133.3 193.0,130.6 186.6,134.3" fill="#32fff6"/>
<polygon points="206.1,135.7 212.5,132.1 206.0,129.7 199.5,133.3" fill="#32ffef"/>
<polygon points="232.1,132.9 238.5,129.5 231.9,127.3 225.5,130.8" fill="#32ffe0"/>
<polygon points="245.2,131.5 251.5,128.1 244.9,126.0 238.5,129.5" fill="#33ffd9"/>
<polygon points="271.3,128.9 277.5,125.7 270.8,123.5 264.5,126.8" fill="#32ffcc"/>
<polygon points="89.1,135.7 95.7,132.1 89.3,126.4 82.7,130.0" fill="#32ffef"/>
<polygon points="128.1,139.2 134.7,135.5 128.3,131.1 121.7,134.9" fill="#32f9ff"/>
<polygon points="219.1,134.3 225.5,130.8 218.9,128.5 212.5,132.1" fill="#32ffe8"/>
<polygon points="258.2,130.1 264.5,126.8 257.8,124.7 251.5,128.1" fill="#32ffd2"/>
<polygon points="82.4,139.3 89.1,135.7 82.7,130.0 76.0,133.5" fill="#32fffc"/>
<polygon points="95.4,141.0 102.1,137.4 95.7,132.1 89.1,135.7" fill="#32f5ff"/>
<polygon points="108.5,142.2 115.1,138.5 108.7,133.7 102.1,137.4" fill="#33eeff"/>
<polygon points="121.5,142.9 128.1,139.2 121.7,134.9 115.1,138.5" fill="#32ebff"/>
<polygon points="134.6,143.1 141.1,139.4 134.7,135.5 128.1,139.2" fill="#32eaff"/>
<polygon points="147.6,143.0 154.1,139.3 147.7,135.7 141.1,139.4" fill="#32ebff"/>
<polygon points="160.6,142.4 167.1,138.8 160.6,135.6 154.1,139.3" fill="#32efff"/>
<polygon points="173.6,141.6 180.1,138.0 173.6,135.1 167.1,138.8" fill="#32f5ff"/>
<polygon points="186.6,140.5 193.1,136.9 186.6,134.3 180.1,138.0" fill="#32fbff"/>
<polygon points="199.6,139.3 206.1,135.7 199.5,133.3 193.1,136.9" fill="#32fffa"/>
<polygon points="212.7,137.8 219.1,134.3 212.5,132.1 206.1,135.7" fill="#32fff2"/>
<polygon points="225.7,136.4 232.1,132.9 225.5,130.8 219.1,134.3" fill="#32ffea"/>
<polygon points="238.8,134.9 245.2,131.5 238.5,129.5 232.1,132.9" fill="#33ffe2"/>
<polygon points="251.9,133.4 258.2,130.1 251.5,128.1 245.2,131.5" fill="#32ffdb"/>
<polygon points="264.9,132.2 271.3,128.9 264.5,126.8 258.2,130.1" fill="#32ffd4"/>
<polygon points="88.8,144.6 95.4,141.0 89.1,135.7 82.4,139.3" fill="#32e8ff"/>
<polygon points="258.6,135.4 264.9,132.2 258.2,130.1 251.9,133.4" fill="#32ffdd"/>
<polygon points="101.8,145.8 108.5,142.2 102.1,137.4 95.4,141.0" fill="#32e0ff"/>
<polygon points="114.9,146.6 121.5,142.9 115.1,138.5 108.5,142.2" fill="#32ddff"/>
<polygon points="128.0,146.8 134.6,143.1 128.1,139.2 121.5,142.9" fill="#32dcff"/>
<polygon points="141.0,146.7 147.6,143.0 141.1,139.4 134.6,143.1" fill="#32deff"/>
<polygon points="154.0,146.1 160.6,142.4 154.1,139.3 147.6,143.0" fill="#32e2ff"/>
<polygon points="167.1,145.3 173.6,141.6 167.1,138.8 160.6,142.4" fill="#32e8ff"/>
<polygon points="180.1,144.2 186.6,140.5 180.1,138.0 173.6,141.6" fill="#32efff"/>
<polygon points="193.2,142.8 199.6,139.3 193.1,136.9 186.6,140.5" fill="#32f7ff"/>
<polygon points="206.2,141.4 212.7,137.8 206.1,135.7 199.6,139.3" fill="#32fffd"/>
<polygon points="219.3,139.8 225.7,136.4 219.1,134.3 212.7,137.8" fill="#32fff4"/>
<polygon points="232.4,138.2 238.8,134.9 232.1,132.9 225.7,136.4" fill="#33ffec"/>
<polygon points="245.5,136.7 251.9,133.4 245.2,131.5 238.8,134.9" fill="#32ffe4"/>
<polygon points="95.2,149.4 101.8,145.8 95.4,141.0 88.8,144.6" fill="#32d3ff"/>
<polygon points="121.3,150.5 128.0,146.8 121.5,142.9 114.9,146.6" fill="#33ceff"/>
<polygon points="147.5,149.8 154.0,146.1 147.6,143.0 141.0,146.7" fill="#32d5ff"/>
<polygon points="160.5,148.9 167.1,145.3 160.6,142.4 154.0,146.1" fill="#32dbff"/>
<polygon points="173.6,147.8 180.1,144.2 173.6,141.6 167.1,145.3" fill="#32e3ff"/>
<polygon points="186.7,146.4 193.2,142.8 186.6,140.5 180.1,144.2" fill="#32ecff"/>
<polygon points="199.8,144.9 206.2,141.4 199.6,139.3 193.2,142.8" fill="#32f5ff"/>
<polygon points="226.0,141.6 232.4,138.2 225.7,136.4 219.3,139.8" fill="#33fff5"/>
<polygon points="252.2,138.6 258.6,135.4 251.9,133.4 245.5,136.7" fill="#32ffe5"/>
<polygon points="108.3,150.2 114.9,146.6 108.5,142.2 101.8,145.8" fill="#32cfff"/>
<polygon points="134.4,150.4 141.0,146.7 134.6,143.1 128.0,146.8" fill="#32d0ff"/>
<polygon points="212.9,143.3 219.3,139.8 212.7,137.8 206.2,141.4" fill="#32fffe"/>
<polygon points="239.1,140.0 245.5,136.7 238.8,134.9 232.4,138.2" fill="#32ffed"/>
<polygon points="167.0,151.4 173.6,147.8 167.1,145.3 160.5,148.9" fill="#32d7ff"/>
<polygon points="180.1,150.0 186.7,146.4 180.1,144.2 173.6,147.8" fill="#32e0ff"/>
<polygon points="101.6,153.8 108.3,150.2 101.8,145.8 95.2,149.4" fill="#32c1ff"/>
<polygon points="114.7,154.2 121.3,150.5 114.9,146.6 108.3,150.2" fill="#32c0ff"/>
<polygon points="127.8,154.0 134.4,150.4 128.0,146.8 121.3,150.5" fill="#33c3ff"/>
<polygon points="140.9,153.5 147.5,149.8 141.0,146.7 134.4,150.4" fill="#32c7ff"/>
<polygon points="153.9,152.6 160.5,148.9 154.0,146.1 147.5,149.8" fill="#32ceff"/>
<polygon points="193.3,148.4 199.8,144.9 193.2,142.8 186.7,146.4" fill="#32eaff"/>
<polygon points="206.4,146.7 212.9,143.3 206.2,141.4 199.8,144.9" fill="#32f4ff"/>
<polygon points="219.5,145.0 226.0,141.6 219.3,139.8 212.9,143.3" fill="#33feff"/>
<polygon points="232.7,143.3 239.1,140.0 232.4,138.2 226.0,141.6" fill="#32fff6"/>
<polygon points="245.8,141.7 252.2,138.6 245.5,136.7 239.1,140.0" fill="#32ffed"/>
<polygon points="108.0,157.8 114.7,154.2 108.3,150.2 101.6,153.8" fill="#32b2ff"/>
<polygon points="134.2,157.1 140.9,153.5 134.4,150.4 127.8,154.0" fill="#33baff"/>
<polygon points="147.3,156.2 153.9,152.6 147.5,149.8 140.9,153.5" fill="#32c1ff"/>
<polygon points="160.5,155.0 167.0,151.4 160.5,148.9 153.9,152.6" fill="#32caff"/>
<polygon points="173.6,153.6 180.1,150.0 173.6,147.8 167.0,151.4" fill="#32d4ff"/>
<polygon points="186.7,151.9 193.3,148.4 186.7,146.4 180.1,150.0" fill="#32dfff"/>
<polygon points="199.9,150.2 206.4,146.7 199.8,144.9 193.3,148.4" fill="#32e9ff"/>
<polygon points="213.0,148.4 219.5,145.0 212.9,143.3 206.4,146.7" fill="#33f4ff"/>
<polygon points="239.4,144.9 245.8,141.7 239.1,140.0 232.7,143.3" fill="#32fff6"/>
<polygon points="121.1,157.7 127.8,154.0 121.3,150.5 114.7,154.2" fill="#32b5ff"/>
<polygon points="226.2,146.6 232.7,143.3 226.0,141.6 219.5,145.0" fill="#32feff"/>
<polygon points="114.4,161.3 121.1,157.7 114.7,154.2 108.0,157.8" fill="#32a7ff"/>
<polygon points="127.6,160.8 134.2,157.1 127.8,154.0 121.1,157.7" fill="#32acff"/>
<polygon points="140.7,159.9 147.3,156.2 140.9,153.5 134.2,157.1" fill="#33b4ff"/>
<polygon points="153.9,158.6 160.5,155.0 153.9,152.6 147.3,156.2" fill="#32bdff"/>
<polygon points="167.0,157.1 173.6,153.6 167.0,151.4 160.5,155.0" fill="#32c8ff"/>
<polygon points="180.2,155.5 186.7,151.9 180.1,150.0 173.6,153.6" fill="#32d3ff"/>
<polygon points="193.4,153.6 199.9,150.2 193.3,148.4 186.7,151.9" fill="#32dfff"/>
<polygon points="206.5,151.7 213.0,148.4 206.4,146.7 199.9,150.2" fill="#33eaff"/>
<polygon points="219.7,149.9 226.2,146.6 219.5,145.0 213.0,148.4" fill="#32f5ff"/>
<polygon points="233.0,148.1 239.4,144.9 232.7,143.3 226.2,146.6" fill="#32fffe"/>
<polygon points="120.9,164.4 127.6,160.8 121.1,157.7 114.4,161.3" fill="#329eff"/>
<polygon points="134.1,163.5 140.7,159.9 134.2,157.1 127.6,160.8" fill="#32a6ff"/>
<polygon points="147.2,162.3 153.9,158.6 147.3,156.2 140.7,159.9" fill="#33b0ff"/>
<polygon points="160.4,160.7 167.0,157.1 160.5,155.0 153.9,158.6" fill="#32bbff"/>
<polygon points="173.6,159.0 180.2,155.5 173.6,153.6 167.0,157.1" fill="#32c7ff"/>
<polygon points="186.8,157.1 193.4,153.6 186.7,151.9 180.2,155.5" fill="#32d4ff"/>
<polygon points="200.0,155.1 206.5,151.7 199.9,150.2 193.4,153.6" fill="#33e0ff"/>
<polygon points="213.2,153.2 219.7,149.9 213.0,148.4 206.5,151.7" fill="#32ecff"/>
<polygon points="226.5,151.3 233.0,148.1 226.2,146.6 219.7,149.9" fill="#32f6ff"/>
<polygon points="127.4,167.2 134.1,163.5 127.6,160.8 120.9,164.4" fill="#3299ff"/>
<polygon points="140.6,165.9 147.2,162.3 140.7,159.9 134.1,163.5" fill="#32a3ff"/>
<polygon points="153.8,164.3 160.4,160.7 153.9,158.6 147.2,162.3" fill="#33aeff"/>
<polygon points="167.0,162.6 173.6,159.0 167.0,157.1 160.4,160.7" fill="#32bbff"/>
<polygon points="180.2,160.6 186.8,157.1 180.2,155.5 173.6,159.0" fill="#32c8ff"/>
<polygon points="193.5,158.5 200.0,155.1 193.4,153.6 186.8,157.1" fill="#33d5ff"/>
<polygon points="206.7,156.5 213.2,153.2 206.5,151.7 200.0,155.1" fill="#32e2ff"/>
<polygon points="220.0,154.5 226.5,151.3 219.7,149.9 213.2,153.2" fill="#32edff"/>
<polygon points="133.9,169.6 140.6,165.9 134.1,163.5 127.4,167.2" fill="#3295ff"/>
<polygon points="147.1,168.0 153.8,164.3 147.2,162.3 140.6,165.9" fill="#32a1ff"/>
<polygon points="200.2,159.8 206.7,156.5 200.0,155.1 193.5,158.5" fill="#32d8ff"/>
<polygon points="213.4,157.7 220.0,154.5 213.2,153.2 206.7,156.5" fill="#32e5ff"/>
<polygon points="160.4,166.1 167.0,162.6 160.4,160.7 153.8,164.3" fill="#32afff"/>
<polygon points="173.6,164.1 180.2,160.6 173.6,159.0 167.0,162.6" fill="#32bdff"/>
<polygon points="186.9,162.0 193.5,158.5 186.8,157.1 180.2,160.6" fill="#32cbff"/>
<polygon points="140.4,171.6 147.1,168.0 140.6,165.9 133.9,169.6" fill="#3294ff"/>
<polygon points="206.9,161.0 213.4,157.7 206.7,156.5 200.2,159.8" fill="#32dbff"/>
<polygon points="153.7,169.7 160.4,166.1 153.8,164.3 147.1,168.0" fill="#32a2ff"/>
<polygon points="167.0,167.6 173.6,164.1 167.0,162.6 160.4,166.1" fill="#33b1ff"/>
<polygon points="180.3,165.4 186.9,162.0 180.2,160.6 173.6,164.1" fill="#33c0ff"/>
<polygon points="193.6,163.2 200.2,159.8 193.5,158.5 186.9,162.0" fill="#32ceff"/>
<polygon points="147.0,173.3 153.7,169.7 147.1,168.0 140.4,171.6" fill="#3295ff"/>
<polygon points="160.3,171.2 167.0,167.6 160.4,166.1 153.7,169.7" fill="#32a5ff"/>
<polygon points="173.6,168.9 180.3,165.4 173.6,164.1 167.0,167.6" fill="#33b4ff"/>
<polygon points="187.0,166.5 193.6,163.2 186.9,162.0 180.3,165.4" fill="#32c3ff"/>
<polygon points="200.3,164.2 206.9,161.0 200.2,159.8 193.6,163.2" fill="#32d2ff"/>
<polygon points="167.0,172.4 173.6,168.9 167.0,167.6 160.3,171.2" fill="#32a8ff"/>
<polygon points="180.3,170.0 187.0,166.5 180.3,165.4 173.6,168.9" fill="#32b9ff"/>
<polygon points="153.6,174.8 160.3,171.2 153.7,169.7 147.0,173.3" fill="#3298ff"/>
<polygon points="193.7,167.5 200.3,164.2 193.6,163.2 187.0,166.5" fill="#32c8ff"/>
<polygon points="160.3,175.9 167.0,172.4 160.3,171.2 153.6,174.8" fill="#339cff"/>
<polygon points="173.6,173.4 180.3,170.0 173.6,168.9 167.0,172.4" fill="#32aeff"/>
<polygon points="187.0,170.8 193.7,167.5 187.0,166.5 180.3,170.0" fill="#33beff"/>
<polygon points="167.0,176.9 173.6,173.4 167.0,172.4 160.3,175.9" fill="#32a2ff"/>
<polygon points="180.4,174.2 187.0,170.8 180.3,170.0 173.6,173.4" fill="#32b4ff"/>
<polygon points="173.7,177.6 180.4,174.2 173.6,173.4 167.0,176.9" fill="#32a9ff"/>
</g>
<circle cx="174.0" cy="179.0" r="2.6" fill="#c4000a" stroke="#6a0000" stroke-width="0.5"/>
<circle cx="303.0" cy="115.3" r="2.6" fill="#ffc6ce" stroke="#b58c94" stroke-width="0.5"/>
<circle cx="44.2" cy="97.0" r="2.6" fill="#c4000a" stroke="#6a0000" stroke-width="0.5"/>
<circle cx="174.0" cy="107.5" r="2.6" fill="#c4000a" stroke="#6a0000" stroke-width="0.5"/>
<circle cx="174.0" cy="116.5" r="2.6" fill="#c4000a" stroke="#6a0000" stroke-width="0.5"/>
<circle cx="46.3" cy="151.0" r="1.0" fill="#000"/>
<text x="42.7" y="150.1" font-size="5.6" text-anchor="end" fill="#222">60</text>
<circle cx="45.6" cy="135.9" r="1.0" fill="#000"/>
<text x="42.0" y="135.0" font-size="5.6" text-anchor="end" fill="#222">80</text>
<circle cx="45.0" cy="120.9" r="1.0" fill="#000"/>
<text x="41.4" y="120.0" font-size="5.6" text-anchor="end" fill="#222">100</text>
<circle cx="44.3" cy="105.8" r="1.0" fill="#000"/>
<text x="40.7" y="104.9" font-size="5.6" text-anchor="end" fill="#222">120</text>
<circle cx="43.6" cy="90.8" r="1.0" fill="#000"/>
<text x="40.0" y="89.9" font-size="5.6" text-anchor="end" fill="#222">140</text>
<circle cx="43.0" cy="75.8" r="1.0" fill="#000"/>
<text x="39.4" y="74.8" font-size="5.6" text-anchor="end" fill="#222">160</text>
<circle cx="42.3" cy="60.7" r="1.0" fill="#000"/>
<text x="38.7" y="59.8" font-size="5.6" text-anchor="end" fill="#222">180</text>
<circle cx="41.7" cy="45.7" r="1.0" fill="#000"/>
<text x="38.1" y="44.8" font-size="5.6" text-anchor="end" fill="#222">200</text>
<circle cx="41.0" cy="30.6" r="1.0" fill="#000"/>
<text x="37.4" y="29.7" font-size="5.6" text-anchor="end" fill="#222">220</text>
<text x="177.2" y="250.1" font-size="5.7" fill="#222">2.375</text>
<text x="202.2" y="238.9" font-size="5.7" fill="#222">3.325</text>
<text x="227.2" y="227.8" font-size="5.7" fill="#222">4.275</text>
<text x="252.2" y="216.6" font-size="5.7" fill="#222">5.225</text>
<text x="277.2" y="205.5" font-size="5.7" fill="#222">6.175</text>
<text x="302.2" y="194.3" font-size="5.7" fill="#222">7.125</text>
<text x="171.2" y="250.1" font-size="5.7" text-anchor="end" fill="#222">2.5</text>
<text x="146.1" y="238.8" font-size="5.7" text-anchor="end" fill="#222">3.5</text>
<text x="121.0" y="227.6" font-size="5.7" text-anchor="end" fill="#222">4.5</text>
<text x="95.9" y="216.3" font-size="5.7" text-anchor="end" fill="#222">5.5</text>
<text x="70.8" y="205.1" font-size="5.7" text-anchor="end" fill="#222">6.5</text>
<text x="45.7" y="193.8" font-size="5.7" text-anchor="end" fill="#222">7.5</text>
<g stroke="#2a2a2a" stroke-width="0.7" fill="none">
<line x1="384.0" y1="30.9" x2="391.5" y2="184.4" />
<line x1="644.0" y1="30.4" x2="635.1" y2="185.2" />
<line x1="410.0" y1="25.5" x2="414.8" y2="140.9" />
<line x1="618.0" y1="25.1" x2="612.7" y2="140.9" />
<line x1="435.9" y1="20.1" x2="439.6" y2="133.1" />
<line x1="591.9" y1="19.8" x2="588.0" y2="133.1" />
<line x1="461.9" y1="14.7" x2="464.3" y2="125.4" />
<line x1="565.9" y1="14.5" x2="563.2" y2="125.4" />
<line x1="487.8" y1="9.3" x2="489.0" y2="117.6" />
<line x1="539.8" y1="9.2" x2="538.5" y2="117.6" />
<line x1="513.8" y1="3.9" x2="513.7" y2="142.4" />
<line x1="390.1" y1="148.7" x2="513.7" y2="109.8" />
<line x1="513.7" y1="109.8" x2="637.4" y2="148.7" />
<line x1="389.3" y1="134.0" x2="513.7" y2="96.6" />
<line x1="513.7" y1="96.6" x2="638.2" y2="133.9" />
<line x1="388.6" y1="119.2" x2="513.8" y2="83.3" />
<line x1="513.8" y1="83.3" x2="639.1" y2="119.1" />
<line x1="387.8" y1="104.5" x2="513.8" y2="70.1" />
<line x1="513.8" y1="70.1" x2="639.9" y2="104.3" />
<line x1="387.1" y1="89.8" x2="513.8" y2="56.8" />
<line x1="513.8" y1="56.8" x2="640.7" y2="89.6" />
<line x1="386.3" y1="75.1" x2="513.8" y2="43.6" />
<line x1="513.8" y1="43.6" x2="641.5" y2="74.8" />
<line x1="385.5" y1="60.3" x2="513.8" y2="30.4" />
<line x1="513.8" y1="30.4" x2="642.4" y2="60.0" />
<line x1="384.8" y1="45.6" x2="513.8" y2="17.1" />
<line x1="513.8" y1="17.1" x2="643.2" y2="45.2" />
<line x1="384.0" y1="30.9" x2="513.8" y2="3.9" />
<line x1="513.8" y1="3.9" x2="644.0" y2="30.4" />
</g>
<polygon points="513.9,239.3 635.1,185.2 513.7,142.4 391.5,184.4" fill="#656565" stroke="#2a2a2a" stroke-width="0.6" stroke-linejoin="round"/>
<clipPath id="clipB"><polygon points="513.9,239.3 635.1,185.2 513.7,142.4 391.5,184.4"/></clipPath>
<g clip-path="url(#clipB)">
<path d="M405.9,190.8 C408.1,189.3 414.5,184.3 419.2,181.7 C423.9,179.0 429.9,176.6 434.3,174.9 C438.7,173.2 441.4,172.7 445.7,171.5 C450.0,170.3 457.6,168.6 460.0,168.0" fill="none" stroke="#2f7fe0" stroke-width="1.25" stroke-linecap="round"/>
<path d="M459.0,217.0 C463.1,217.9 475.2,221.0 483.7,222.7 C492.2,224.4 501.2,226.3 510.2,227.3 C519.2,228.3 533.3,228.4 537.9,228.6" fill="none" stroke="#2f7fe0" stroke-width="1.25" stroke-linecap="round"/>
<path d="M485.0,166.0 C484.1,167.2 481.4,171.1 479.9,173.4 C478.4,175.7 476.6,177.5 476.1,179.8 C475.7,182.1 475.6,184.7 477.2,187.4 C478.8,190.1 480.7,193.0 485.6,196.2 C490.5,199.4 497.9,203.2 506.4,206.4 C514.9,209.6 527.8,213.1 536.8,215.1 C545.8,217.1 556.4,218.0 560.3,218.6" fill="none" stroke="#2fc6d6" stroke-width="1.25" stroke-linecap="round"/>
<path d="M512.0,182.0 C513.9,182.9 519.4,184.9 523.5,187.4 C527.6,189.9 531.4,193.9 536.8,196.9 C542.2,199.9 549.5,202.8 555.8,205.3 C562.1,207.8 571.6,211.0 574.8,212.1" fill="none" stroke="#2fcf8f" stroke-width="1.25" stroke-linecap="round"/>
<path d="M562.0,152.0 C561.6,153.5 560.3,157.8 559.6,160.9 C558.9,164.0 557.1,166.6 557.7,170.4 C558.3,174.2 559.9,179.2 563.4,183.6 C566.9,188.0 573.3,193.6 578.5,196.9 C583.7,200.2 591.8,202.2 594.5,203.3" fill="none" stroke="#35cf55" stroke-width="1.25" stroke-linecap="round"/>
<path d="M589.0,169.3 C590.4,171.4 594.2,178.4 597.5,181.7 C600.8,185.0 605.6,187.4 608.9,189.3 C612.2,191.2 615.9,192.5 617.3,193.1" fill="none" stroke="#4fd035" stroke-width="1.25" stroke-linecap="round"/>
</g>
<circle cx="513.9" cy="239.3" r="1.1" fill="#000"/>
<circle cx="513.9" cy="239.3" r="1.1" fill="#000"/>
<circle cx="538.1" cy="228.5" r="1.1" fill="#000"/>
<circle cx="489.4" cy="228.3" r="1.1" fill="#000"/>
<circle cx="562.4" cy="217.7" r="1.1" fill="#000"/>
<circle cx="464.9" cy="217.3" r="1.1" fill="#000"/>
<circle cx="586.6" cy="206.8" r="1.1" fill="#000"/>
<circle cx="440.5" cy="206.4" r="1.1" fill="#000"/>
<circle cx="610.9" cy="196.0" r="1.1" fill="#000"/>
<circle cx="416.0" cy="195.4" r="1.1" fill="#000"/>
<circle cx="635.1" cy="185.2" r="1.1" fill="#000"/>
<circle cx="391.5" cy="184.4" r="1.1" fill="#000"/>
<g stroke="#1a1a1a" stroke-opacity="0.85" stroke-width="0.36" stroke-linejoin="round">
<polygon points="514.0,90.9 519.2,89.2 513.8,90.9 508.6,92.4" fill="#47e2ff"/>
<polygon points="508.8,92.6 514.0,90.9 508.6,92.4 503.4,93.9" fill="#46e1ff"/>
<polygon points="519.4,89.5 524.6,87.7 519.2,89.2 514.0,90.9" fill="#47faff"/>
<polygon points="503.6,94.3 508.8,92.6 503.4,93.9 498.2,95.5" fill="#46e1ff"/>
<polygon points="514.2,91.3 519.4,89.5 514.0,90.9 508.8,92.6" fill="#47f9ff"/>
<polygon points="524.9,88.3 530.1,86.3 524.6,87.7 519.4,89.5" fill="#48ffeb"/>
<polygon points="498.3,96.0 503.6,94.3 498.2,95.5 493.0,97.1" fill="#45e0ff"/>
<polygon points="509.0,93.2 514.2,91.3 508.8,92.6 503.6,94.3" fill="#46f7ff"/>
<polygon points="519.7,90.3 524.9,88.3 519.4,89.5 514.2,91.3" fill="#47ffee"/>
<polygon points="530.5,87.2 535.7,85.0 530.1,86.3 524.9,88.3" fill="#48ffd5"/>
<polygon points="493.1,97.8 498.3,96.0 493.0,97.1 487.7,98.7" fill="#45dfff"/>
<polygon points="503.8,95.1 509.0,93.2 503.6,94.3 498.3,96.0" fill="#46f5ff"/>
<polygon points="514.5,92.3 519.7,90.3 514.2,91.3 509.0,93.2" fill="#47fff1"/>
<polygon points="525.2,89.3 530.5,87.2 524.9,88.3 519.7,90.3" fill="#48ffd9"/>
<polygon points="536.0,86.2 541.2,83.9 535.7,85.0 530.5,87.2" fill="#49ffc1"/>
<polygon points="487.8,99.6 493.1,97.8 487.7,98.7 482.4,100.4" fill="#44ddff"/>
<polygon points="498.5,97.0 503.8,95.1 498.3,96.0 493.1,97.8" fill="#45f3ff"/>
<polygon points="509.2,94.3 514.5,92.3 509.0,93.2 503.8,95.1" fill="#46fff4"/>
<polygon points="520.0,91.5 525.2,89.3 519.7,90.3 514.5,92.3" fill="#47ffdd"/>
<polygon points="530.8,88.5 536.0,86.2 530.5,87.2 525.2,89.3" fill="#48ffc6"/>
<polygon points="541.6,85.4 546.8,82.9 541.2,83.9 536.0,86.2" fill="#49ffad"/>
<polygon points="482.5,101.4 487.8,99.6 482.4,100.4 477.1,102.1" fill="#43dcff"/>
<polygon points="493.2,98.9 498.5,97.0 493.1,97.8 487.8,99.6" fill="#44f1ff"/>
<polygon points="504.0,96.3 509.2,94.3 503.8,95.1 498.5,97.0" fill="#45fff7"/>
<polygon points="514.7,93.6 520.0,91.5 514.5,92.3 509.2,94.3" fill="#46ffe1"/>
<polygon points="525.5,90.8 530.8,88.5 525.2,89.3 520.0,91.5" fill="#47ffcb"/>
<polygon points="536.4,87.9 541.6,85.4 536.0,86.2 530.8,88.5" fill="#48ffb3"/>
<polygon points="547.3,84.7 552.5,82.0 546.8,82.9 541.6,85.4" fill="#49ff9b"/>
<polygon points="477.2,103.3 482.5,101.4 477.1,102.1 471.8,103.9" fill="#43daff"/>
<polygon points="487.9,100.9 493.2,98.9 487.8,99.6 482.5,101.4" fill="#44eeff"/>
<polygon points="498.7,98.4 504.0,96.3 498.5,97.0 493.2,98.9" fill="#44fffa"/>
<polygon points="509.5,95.8 514.7,93.6 509.2,94.3 504.0,96.3" fill="#45ffe5"/>
<polygon points="520.3,93.1 525.5,90.8 520.0,91.5 514.7,93.6" fill="#46ffcf"/>
<polygon points="531.1,90.3 536.4,87.9 530.8,88.5 525.5,90.8" fill="#47ffb9"/>
<polygon points="542.0,87.3 547.3,84.7 541.6,85.4 536.4,87.9" fill="#49ffa2"/>
<polygon points="552.9,84.1 558.2,81.3 552.5,82.0 547.3,84.7" fill="#4aff8a"/>
<polygon points="471.8,105.2 477.2,103.3 471.8,103.9 466.4,105.7" fill="#42d8ff"/>
<polygon points="482.6,102.8 487.9,100.9 482.5,101.4 477.2,103.3" fill="#43ecff"/>
<polygon points="493.3,100.5 498.7,98.4 493.2,98.9 487.9,100.9" fill="#44fffd"/>
<polygon points="504.1,98.0 509.5,95.8 504.0,96.3 498.7,98.4" fill="#45ffe9"/>
<polygon points="515.0,95.5 520.3,93.1 514.7,93.6 509.5,95.8" fill="#46ffd4"/>
<polygon points="525.9,92.8 531.1,90.3 525.5,90.8 520.3,93.1" fill="#47ffbf"/>
<polygon points="536.8,90.0 542.0,87.3 536.4,87.9 531.1,90.3" fill="#48ffa9"/>
<polygon points="547.7,86.9 552.9,84.1 547.3,84.7 542.0,87.3" fill="#49ff92"/>
<polygon points="558.7,83.7 563.9,80.6 558.2,81.3 552.9,84.1" fill="#4aff7a"/>
<polygon points="466.4,107.1 471.8,105.2 466.4,105.7 461.1,107.5" fill="#41d5ff"/>
<polygon points="477.2,104.9 482.6,102.8 477.2,103.3 471.8,105.2" fill="#42e9ff"/>
<polygon points="488.0,102.6 493.3,100.5 487.9,100.9 482.6,102.8" fill="#43fcff"/>
<polygon points="498.8,100.2 504.1,98.0 498.7,98.4 493.3,100.5" fill="#44ffed"/>
<polygon points="509.7,97.8 515.0,95.5 509.5,95.8 504.1,98.0" fill="#45ffd9"/>
<polygon points="520.6,95.3 525.9,92.8 520.3,93.1 515.0,95.5" fill="#46ffc5"/>
<polygon points="531.5,92.6 536.8,90.0 531.1,90.3 525.9,92.8" fill="#47ffb0"/>
<polygon points="542.4,89.7 547.7,86.9 542.0,87.3 536.8,90.0" fill="#48ff9a"/>
<polygon points="553.4,86.6 558.7,83.7 552.9,84.1 547.7,86.9" fill="#49ff83"/>
<polygon points="564.4,83.3 569.7,80.1 563.9,80.6 558.7,83.7" fill="#4bff6b"/>
<polygon points="461.0,109.1 466.4,107.1 461.1,107.5 455.7,109.4" fill="#40d3ff"/>
<polygon points="471.8,106.9 477.2,104.9 471.8,105.2 466.4,107.1" fill="#41e6ff"/>
<polygon points="482.6,104.7 488.0,102.6 482.6,102.8 477.2,104.9" fill="#42f9ff"/>
<polygon points="493.5,102.5 498.8,100.2 493.3,100.5 488.0,102.6" fill="#43fff1"/>
<polygon points="504.3,100.1 509.7,97.8 504.1,98.0 498.8,100.2" fill="#44ffde"/>
<polygon points="515.2,97.7 520.6,95.3 515.0,95.5 509.7,97.8" fill="#45ffcb"/>
<polygon points="526.2,95.2 531.5,92.6 525.9,92.8 520.6,95.3" fill="#46ffb7"/>
<polygon points="537.1,92.5 542.4,89.7 536.8,90.0 531.5,92.6" fill="#47ffa2"/>
<polygon points="548.1,89.6 553.4,86.6 547.7,86.9 542.4,89.7" fill="#48ff8c"/>
<polygon points="559.1,86.5 564.4,83.3 558.7,83.7 553.4,86.6" fill="#4aff75"/>
<polygon points="570.2,83.1 575.5,79.7 569.7,80.1 564.4,83.3" fill="#4bff5c"/>
<polygon points="455.6,111.1 461.0,109.1 455.7,109.4 450.3,111.3" fill="#40d0ff"/>
<polygon points="466.4,109.0 471.8,106.9 466.4,107.1 461.0,109.1" fill="#40e3ff"/>
<polygon points="477.3,106.9 482.6,104.7 477.2,104.9 471.8,106.9" fill="#41f5ff"/>
<polygon points="488.1,104.7 493.5,102.5 488.0,102.6 482.6,104.7" fill="#42fff6"/>
<polygon points="499.0,102.5 504.3,100.1 498.8,100.2 493.5,102.5" fill="#43ffe3"/>
<polygon points="509.9,100.2 515.2,97.7 509.7,97.8 504.3,100.1" fill="#44ffd1"/>
<polygon points="520.8,97.8 526.2,95.2 520.6,95.3 515.2,97.7" fill="#45ffbe"/>
<polygon points="531.8,95.3 537.1,92.5 531.5,92.6 526.2,95.2" fill="#46ffaa"/>
<polygon points="542.8,92.5 548.1,89.6 542.4,89.7 537.1,92.5" fill="#48ff95"/>
<polygon points="553.8,89.6 559.1,86.5 553.4,86.6 548.1,89.6" fill="#49ff7f"/>
<polygon points="564.9,86.4 570.2,83.1 564.4,83.3 559.1,86.5" fill="#4aff68"/>
<polygon points="576.0,83.0 581.3,79.4 575.5,79.7 570.2,83.1" fill="#4cff4f"/>
<polygon points="450.2,113.2 455.6,111.1 450.3,111.3 444.8,113.3" fill="#3fcdff"/>
<polygon points="461.0,111.1 466.4,109.0 461.0,109.1 455.6,111.1" fill="#40dfff"/>
<polygon points="471.9,109.1 477.3,106.9 471.8,106.9 466.4,109.0" fill="#40f1ff"/>
<polygon points="482.7,107.0 488.1,104.7 482.6,104.7 477.3,106.9" fill="#41fffa"/>
<polygon points="493.6,104.9 499.0,102.5 493.5,102.5 488.1,104.7" fill="#42ffe8"/>
<polygon points="504.5,102.7 509.9,100.2 504.3,100.1 499.0,102.5" fill="#43ffd7"/>
<polygon points="515.5,100.4 520.8,97.8 515.2,97.7 509.9,100.2" fill="#44ffc4"/>
<polygon points="526.5,98.0 531.8,95.3 526.2,95.2 520.8,97.8" fill="#45ffb1"/>
<polygon points="537.5,95.5 542.8,92.5 537.1,92.5 531.8,95.3" fill="#47ff9e"/>
<polygon points="548.5,92.7 553.8,89.6 548.1,89.6 542.8,92.5" fill="#48ff89"/>
<polygon points="559.6,89.7 564.9,86.4 559.1,86.5 553.8,89.6" fill="#49ff73"/>
<polygon points="570.7,86.5 576.0,83.0 570.2,83.1 564.9,86.4" fill="#4bff5c"/>
<polygon points="581.8,82.9 587.1,79.2 581.3,79.4 576.0,83.0" fill="#55ff4c"/>
<polygon points="444.7,115.3 450.2,113.2 444.8,113.3 439.4,115.3" fill="#3ec9ff"/>
<polygon points="455.6,113.3 461.0,111.1 455.6,111.1 450.2,113.2" fill="#3fdbff"/>
<polygon points="466.4,111.3 471.9,109.1 466.4,109.0 461.0,111.1" fill="#40edff"/>
<polygon points="477.3,109.3 482.7,107.0 477.3,106.9 471.9,109.1" fill="#40feff"/>
<polygon points="488.2,107.3 493.6,104.9 488.1,104.7 482.7,107.0" fill="#41ffee"/>
<polygon points="499.2,105.2 504.5,102.7 499.0,102.5 493.6,104.9" fill="#42ffdc"/>
<polygon points="510.1,103.0 515.5,100.4 509.9,100.2 504.5,102.7" fill="#43ffcb"/>
<polygon points="521.1,100.8 526.5,98.0 520.8,97.8 515.5,100.4" fill="#44ffb9"/>
<polygon points="532.1,98.3 537.5,95.5 531.8,95.3 526.5,98.0" fill="#46ffa6"/>
<polygon points="543.2,95.8 548.5,92.7 542.8,92.5 537.5,95.5" fill="#47ff93"/>
<polygon points="554.2,93.0 559.6,89.7 553.8,89.6 548.5,92.7" fill="#48ff7e"/>
<polygon points="565.3,90.0 570.7,86.5 564.9,86.4 559.6,89.7" fill="#49ff68"/>
<polygon points="576.5,86.6 581.8,82.9 576.0,83.0 570.7,86.5" fill="#4bff50"/>
<polygon points="587.7,83.0 593.0,79.0 587.1,79.2 581.8,82.9" fill="#62ff4c"/>
<polygon points="439.2,117.5 444.7,115.3 439.4,115.3 433.9,117.3" fill="#3dc6ff"/>
<polygon points="450.1,115.5 455.6,113.3 450.2,113.2 444.7,115.3" fill="#3ed7ff"/>
<polygon points="461.0,113.6 466.4,111.3 461.0,111.1 455.6,113.3" fill="#3fe9ff"/>
<polygon points="471.9,111.7 477.3,109.3 471.9,109.1 466.4,111.3" fill="#40f9ff"/>
<polygon points="482.8,109.7 488.2,107.3 482.7,107.0 477.3,109.3" fill="#40fff3"/>
<polygon points="493.8,107.7 499.2,105.2 493.6,104.9 488.2,107.3" fill="#41ffe2"/>
<polygon points="504.7,105.6 510.1,103.0 504.5,102.7 499.2,105.2" fill="#42ffd2"/>
<polygon points="515.7,103.5 521.1,100.8 515.5,100.4 510.1,103.0" fill="#44ffc0"/>
<polygon points="526.8,101.2 532.1,98.3 526.5,98.0 521.1,100.8" fill="#45ffaf"/>
<polygon points="537.8,98.8 543.2,95.8 537.5,95.5 532.1,98.3" fill="#46ff9c"/>
<polygon points="548.9,96.2 554.2,93.0 548.5,92.7 543.2,95.8" fill="#47ff88"/>
<polygon points="560.0,93.4 565.3,90.0 559.6,89.7 554.2,93.0" fill="#48ff74"/>
<polygon points="571.2,90.3 576.5,86.6 570.7,86.5 565.3,90.0" fill="#4aff5d"/>
<polygon points="582.4,86.9 587.7,83.0 581.8,82.9 576.5,86.6" fill="#51ff4b"/>
<polygon points="593.6,83.2 598.9,79.0 593.0,79.0 587.7,83.0" fill="#6eff4d"/>
<polygon points="433.8,119.7 439.2,117.5 433.9,117.3 428.4,119.4" fill="#3cc2ff"/>
<polygon points="444.6,117.8 450.1,115.5 444.7,115.3 439.2,117.5" fill="#3dd3ff"/>
<polygon points="455.5,115.9 461.0,113.6 455.6,113.3 450.1,115.5" fill="#3ee4ff"/>
<polygon points="466.4,114.0 471.9,111.7 466.4,111.3 461.0,113.6" fill="#3ff4ff"/>
<polygon points="477.4,112.1 482.8,109.7 477.3,109.3 471.9,111.7" fill="#40fff9"/>
<polygon points="488.4,110.2 493.8,107.7 488.2,107.3 482.8,109.7" fill="#41ffe8"/>
<polygon points="499.3,108.3 504.7,105.6 499.2,105.2 493.8,107.7" fill="#42ffd8"/>
<polygon points="510.4,106.2 515.7,103.5 510.1,103.0 504.7,105.6" fill="#43ffc8"/>
<polygon points="521.4,104.1 526.8,101.2 521.1,100.8 515.7,103.5" fill="#44ffb7"/>
<polygon points="532.5,101.8 537.8,98.8 532.1,98.3 526.8,101.2" fill="#45ffa5"/>
<polygon points="543.5,99.4 548.9,96.2 543.2,95.8 537.8,98.8" fill="#46ff93"/>
<polygon points="554.7,96.7 560.0,93.4 554.2,93.0 548.9,96.2" fill="#47ff7f"/>
<polygon points="565.8,93.9 571.2,90.3 565.3,90.0 560.0,93.4" fill="#49ff6a"/>
<polygon points="577.0,90.7 582.4,86.9 576.5,86.6 571.2,90.3" fill="#4aff54"/>
<polygon points="588.2,87.2 593.6,83.2 587.7,83.0 582.4,86.9" fill="#5cff4c"/>
<polygon points="599.5,83.4 604.9,79.1 598.9,79.0 593.6,83.2" fill="#7aff4d"/>
<polygon points="428.2,121.9 433.8,119.7 428.4,119.4 422.9,121.6" fill="#3bbdff"/>
<polygon points="439.1,120.0 444.6,117.8 439.2,117.5 433.8,119.7" fill="#3cceff"/>
<polygon points="450.0,118.2 455.5,115.9 450.1,115.5 444.6,117.8" fill="#3ddfff"/>
<polygon points="461.0,116.4 466.4,114.0 461.0,113.6 455.5,115.9" fill="#3eefff"/>
<polygon points="471.9,114.6 477.4,112.1 471.9,111.7 466.4,114.0" fill="#3ffffe"/>
<polygon points="482.9,112.8 488.4,110.2 482.8,109.7 477.4,112.1" fill="#40ffef"/>
<polygon points="493.9,110.9 499.3,108.3 493.8,107.7 488.4,110.2" fill="#41ffdf"/>
<polygon points="504.9,109.0 510.4,106.2 504.7,105.6 499.3,108.3" fill="#42ffcf"/>
<polygon points="516.0,107.0 521.4,104.1 515.7,103.5 510.4,106.2" fill="#43ffbf"/>
<polygon points="527.1,104.8 532.5,101.8 526.8,101.2 521.4,104.1" fill="#44ffaf"/>
<polygon points="538.2,102.5 543.5,99.4 537.8,98.8 532.5,101.8" fill="#45ff9d"/>
<polygon points="549.3,100.1 554.7,96.7 548.9,96.2 543.5,99.4" fill="#46ff8a"/>
<polygon points="560.5,97.4 565.8,93.9 560.0,93.4 554.7,96.7" fill="#48ff77"/>
<polygon points="571.6,94.4 577.0,90.7 571.2,90.3 565.8,93.9" fill="#49ff61"/>
<polygon points="582.9,91.2 588.2,87.2 582.4,86.9 577.0,90.7" fill="#4aff4b"/>
<polygon points="594.2,87.6 599.5,83.4 593.6,83.2 588.2,87.2" fill="#66ff4c"/>
<polygon points="605.5,83.7 610.9,79.2 604.9,79.1 599.5,83.4" fill="#88ff4e"/>
<polygon points="422.7,124.2 428.2,121.9 422.9,121.6 417.4,123.7" fill="#39b9ff"/>
<polygon points="433.6,122.4 439.1,120.0 433.8,119.7 428.2,121.9" fill="#3bcaff"/>
<polygon points="444.5,120.6 450.0,118.2 444.6,117.8 439.1,120.0" fill="#3cdaff"/>
<polygon points="455.5,118.9 461.0,116.4 455.5,115.9 450.0,118.2" fill="#3deaff"/>
<polygon points="466.5,117.1 471.9,114.6 466.4,114.0 461.0,116.4" fill="#3ef9ff"/>
<polygon points="477.5,115.4 482.9,112.8 477.4,112.1 471.9,114.6" fill="#3ffff5"/>
<polygon points="488.5,113.6 493.9,110.9 488.4,110.2 482.9,112.8" fill="#40ffe6"/>
<polygon points="499.5,111.8 504.9,109.0 499.3,108.3 493.9,110.9" fill="#41ffd7"/>
<polygon points="510.6,109.8 516.0,107.0 510.4,106.2 504.9,109.0" fill="#42ffc8"/>
<polygon points="521.7,107.8 527.1,104.8 521.4,104.1 516.0,107.0" fill="#43ffb8"/>
<polygon points="532.8,105.7 538.2,102.5 532.5,101.8 527.1,104.8" fill="#44ffa7"/>
<polygon points="543.9,103.4 549.3,100.1 543.5,99.4 538.2,102.5" fill="#45ff95"/>
<polygon points="555.1,100.9 560.5,97.4 554.7,96.7 549.3,100.1" fill="#46ff83"/>
<polygon points="566.3,98.1 571.6,94.4 565.8,93.9 560.5,97.4" fill="#48ff6f"/>
<polygon points="577.5,95.1 582.9,91.2 577.0,90.7 571.6,94.4" fill="#49ff59"/>
<polygon points="588.8,91.8 594.2,87.6 588.2,87.2 582.9,91.2" fill="#53ff4b"/>
<polygon points="600.1,88.1 605.5,83.7 599.5,83.4 594.2,87.6" fill="#6fff4c"/>
<polygon points="611.5,84.1 616.9,79.3 610.9,79.2 605.5,83.7" fill="#95ff4e"/>
<polygon points="417.1,126.5 422.7,124.2 417.4,123.7 411.8,126.0" fill="#38b4ff"/>
<polygon points="428.1,124.8 433.6,122.4 428.2,121.9 422.7,124.2" fill="#39c5ff"/>
<polygon points="439.0,123.1 444.5,120.6 439.1,120.0 433.6,122.4" fill="#3ad4ff"/>
<polygon points="450.0,121.4 455.5,118.9 450.0,118.2 444.5,120.6" fill="#3be4ff"/>
<polygon points="461.0,119.7 466.5,117.1 461.0,116.4 455.5,118.9" fill="#3df3ff"/>
<polygon points="472.0,118.0 477.5,115.4 471.9,114.6 466.5,117.1" fill="#3efffc"/>
<polygon points="483.0,116.3 488.5,113.6 482.9,112.8 477.5,115.4" fill="#3fffed"/>
<polygon points="494.1,114.5 499.5,111.8 493.9,110.9 488.5,113.6" fill="#40ffdf"/>
<polygon points="505.2,112.7 510.6,109.8 504.9,109.0 499.5,111.8" fill="#41ffd0"/>
<polygon points="516.3,110.8 521.7,107.8 516.0,107.0 510.6,109.8" fill="#42ffc1"/>
<polygon points="527.4,108.8 532.8,105.7 527.1,104.8 521.7,107.8" fill="#43ffb1"/>
<polygon points="538.5,106.6 543.9,103.4 538.2,102.5 532.8,105.7" fill="#44ffa0"/>
<polygon points="549.7,104.3 555.1,100.9 549.3,100.1 543.9,103.4" fill="#45ff8f"/>
<polygon points="560.9,101.7 566.3,98.1 560.5,97.4 555.1,100.9" fill="#47ff7c"/>
<polygon points="572.1,98.9 577.5,95.1 571.6,94.4 566.3,98.1" fill="#48ff68"/>
<polygon points="583.4,95.9 588.8,91.8 582.9,91.2 577.5,95.1" fill="#49ff52"/>
<polygon points="594.7,92.5 600.1,88.1 594.2,87.6 588.8,91.8" fill="#5cff4b"/>
<polygon points="606.1,88.7 611.5,84.1 605.5,83.7 600.1,88.1" fill="#79ff4d"/>
<polygon points="617.5,84.5 622.9,79.6 616.9,79.3 611.5,84.1" fill="#a1ff4f"/>
<polygon points="411.6,128.8 417.1,126.5 411.8,126.0 406.2,128.2" fill="#37afff"/>
<polygon points="422.5,127.2 428.1,124.8 422.7,124.2 417.1,126.5" fill="#38bfff"/>
<polygon points="433.5,125.5 439.0,123.1 433.6,122.4 428.1,124.8" fill="#39cfff"/>
<polygon points="444.5,123.9 450.0,121.4 444.5,120.6 439.0,123.1" fill="#3adeff"/>
<polygon points="455.5,122.3 461.0,119.7 455.5,118.9 450.0,121.4" fill="#3becff"/>
<polygon points="466.5,120.7 472.0,118.0 466.5,117.1 461.0,119.7" fill="#3cfbff"/>
<polygon points="477.5,119.0 483.0,116.3 477.5,115.4 472.0,118.0" fill="#3dfff4"/>
<polygon points="488.6,117.4 494.1,114.5 488.5,113.6 483.0,116.3" fill="#3fffe6"/>
<polygon points="499.7,115.6 505.2,112.7 499.5,111.8 494.1,114.5" fill="#40ffd8"/>
<polygon points="510.8,113.8 516.3,110.8 510.6,109.8 505.2,112.7" fill="#41ffca"/>
<polygon points="522.0,111.9 527.4,108.8 521.7,107.8 516.3,110.8" fill="#42ffbb"/>
<polygon points="533.1,109.9 538.5,106.6 532.8,105.7 527.4,108.8" fill="#43ffab"/>
<polygon points="544.3,107.7 549.7,104.3 543.9,103.4 538.5,106.6" fill="#44ff9a"/>
<polygon points="555.5,105.3 560.9,101.7 555.1,100.9 549.7,104.3" fill="#45ff89"/>
<polygon points="566.7,102.7 572.1,98.9 566.3,98.1 560.9,101.7" fill="#47ff76"/>
<polygon points="578.0,99.9 583.4,95.9 577.5,95.1 572.1,98.9" fill="#48ff61"/>
<polygon points="589.3,96.7 594.7,92.5 588.8,91.8 583.4,95.9" fill="#4aff4b"/>
<polygon points="600.7,93.2 606.1,88.7 600.1,88.1 594.7,92.5" fill="#64ff4b"/>
<polygon points="612.1,89.3 617.5,84.5 611.5,84.1 606.1,88.7" fill="#84ff4d"/>
<polygon points="623.5,85.0 629.0,79.9 622.9,79.6 617.5,84.5" fill="#adff4f"/>
<polygon points="406.0,131.2 411.6,128.8 406.2,128.2 400.6,130.5" fill="#36a9ff"/>
<polygon points="416.9,129.6 422.5,127.2 417.1,126.5 411.6,128.8" fill="#37b9ff"/>
<polygon points="427.9,128.1 433.5,125.5 428.1,124.8 422.5,127.2" fill="#38c9ff"/>
<polygon points="438.9,126.5 444.5,123.9 439.0,123.1 433.5,125.5" fill="#39d7ff"/>
<polygon points="449.9,124.9 455.5,122.3 450.0,121.4 444.5,123.9" fill="#3ae6ff"/>
<polygon points="461.0,123.4 466.5,120.7 461.0,119.7 455.5,122.3" fill="#3bf4ff"/>
<polygon points="472.1,121.8 477.5,119.0 472.0,118.0 466.5,120.7" fill="#3cfffc"/>
<polygon points="483.1,120.2 488.6,117.4 483.0,116.3 477.5,119.0" fill="#3dffee"/>
<polygon points="494.2,118.5 499.7,115.6 494.1,114.5 488.6,117.4" fill="#3effe1"/>
<polygon points="505.4,116.8 510.8,113.8 505.2,112.7 499.7,115.6" fill="#40ffd3"/>
<polygon points="516.5,115.0 522.0,111.9 516.3,110.8 510.8,113.8" fill="#41ffc5"/>
<polygon points="527.7,113.1 533.1,109.9 527.4,108.8 522.0,111.9" fill="#42ffb6"/>
<polygon points="538.9,111.1 544.3,107.7 538.5,106.6 533.1,109.9" fill="#43ffa6"/>
<polygon points="550.1,108.9 555.5,105.3 549.7,104.3 544.3,107.7" fill="#44ff95"/>
<polygon points="561.3,106.4 566.7,102.7 560.9,101.7 555.5,105.3" fill="#46ff83"/>
<polygon points="572.6,103.8 578.0,99.9 572.1,98.9 566.7,102.7" fill="#47ff70"/>
<polygon points="583.9,100.8 589.3,96.7 583.4,95.9 578.0,99.9" fill="#48ff5b"/>
<polygon points="595.3,97.6 600.7,93.2 594.7,92.5 589.3,96.7" fill="#4fff4a"/>
<polygon points="606.7,94.0 612.1,89.3 606.1,88.7 600.7,93.2" fill="#6bff4c"/>
<polygon points="618.1,89.9 623.5,85.0 617.5,84.5 612.1,89.3" fill="#8fff4e"/>
<polygon points="629.6,85.5 635.1,80.2 629.0,79.9 623.5,85.0" fill="#b8ff50"/>
<polygon points="400.4,133.7 406.0,131.2 400.6,130.5 395.0,132.9" fill="#35a3ff"/>
<polygon points="411.3,132.2 416.9,129.6 411.6,128.8 406.0,131.2" fill="#36b3ff"/>
<polygon points="422.3,130.6 427.9,128.1 422.5,127.2 416.9,129.6" fill="#37c2ff"/>
<polygon points="433.4,129.1 438.9,126.5 433.5,125.5 427.9,128.1" fill="#38d1ff"/>
<polygon points="444.4,127.6 449.9,124.9 444.5,123.9 438.9,126.5" fill="#39dfff"/>
<polygon points="455.5,126.1 461.0,123.4 455.5,122.3 449.9,124.9" fill="#3aecff"/>
<polygon points="466.5,124.6 472.1,121.8 466.5,120.7 461.0,123.4" fill="#3bf9ff"/>
<polygon points="477.6,123.1 483.1,120.2 477.5,119.0 472.1,121.8" fill="#3cfff7"/>
<polygon points="488.8,121.5 494.2,118.5 488.6,117.4 483.1,120.2" fill="#3dffe9"/>
<polygon points="499.9,119.9 505.4,116.8 499.7,115.6 494.2,118.5" fill="#3effdc"/>
<polygon points="511.1,118.2 516.5,115.0 510.8,113.8 505.4,116.8" fill="#40ffcf"/>
<polygon points="522.2,116.4 527.7,113.1 522.0,111.9 516.5,115.0" fill="#41ffc0"/>
<polygon points="533.4,114.5 538.9,111.1 533.1,109.9 527.7,113.1" fill="#42ffb2"/>
<polygon points="544.7,112.4 550.1,108.9 544.3,107.7 538.9,111.1" fill="#43ffa2"/>
<polygon points="555.9,110.1 561.3,106.4 555.5,105.3 550.1,108.9" fill="#44ff91"/>
<polygon points="567.2,107.6 572.6,103.8 566.7,102.7 561.3,106.4" fill="#46ff7f"/>
<polygon points="578.5,104.9 583.9,100.8 578.0,99.9 572.6,103.8" fill="#47ff6b"/>
<polygon points="589.8,101.9 595.3,97.6 589.3,96.7 583.9,100.8" fill="#49ff56"/>
<polygon points="601.2,98.5 606.7,94.0 600.7,93.2 595.3,97.6" fill="#56ff4a"/>
<polygon points="612.7,94.8 618.1,89.9 612.1,89.3 606.7,94.0" fill="#72ff4c"/>
<polygon points="624.2,90.6 629.6,85.5 623.5,85.0 618.1,89.9" fill="#99ff4e"/>
<polygon points="635.7,86.0 641.2,80.5 635.1,80.2 629.6,85.5" fill="#c4ff50"/>
<polygon points="394.7,136.2 400.4,133.7 395.0,132.9 389.4,135.2" fill="#339dff"/>
<polygon points="405.7,134.7 411.3,132.2 406.0,131.2 400.4,133.7" fill="#35adff"/>
<polygon points="416.7,133.3 422.3,130.6 416.9,129.6 411.3,132.2" fill="#36bcff"/>
<polygon points="427.8,131.8 433.4,129.1 427.9,128.1 422.3,130.6" fill="#37caff"/>
<polygon points="438.8,130.4 444.4,127.6 438.9,126.5 433.4,129.1" fill="#38d7ff"/>
<polygon points="449.9,128.9 455.5,126.1 449.9,124.9 444.4,127.6" fill="#39e4ff"/>
<polygon points="461.0,127.5 466.5,124.6 461.0,123.4 455.5,126.1" fill="#3af1ff"/>
<polygon points="472.1,126.0 477.6,123.1 472.1,121.8 466.5,124.6" fill="#3bfeff"/>
<polygon points="483.3,124.5 488.8,121.5 483.1,120.2 477.6,123.1" fill="#3cfff2"/>
<polygon points="494.4,122.9 499.9,119.9 494.2,118.5 488.8,121.5" fill="#3dffe6"/>
<polygon points="505.6,121.3 511.1,118.2 505.4,116.8 499.9,119.9" fill="#3effd9"/>
<polygon points="516.8,119.6 522.2,116.4 516.5,115.0 511.1,118.2" fill="#40ffcb"/>
<polygon points="528.0,117.8 533.4,114.5 527.7,113.1 522.2,116.4" fill="#41ffbd"/>
<polygon points="539.2,115.9 544.7,112.4 538.9,111.1 533.4,114.5" fill="#42ffae"/>
<polygon points="550.5,113.8 555.9,110.1 550.1,108.9 544.7,112.4" fill="#43ff9e"/>
<polygon points="561.7,111.5 567.2,107.6 561.3,106.4 555.9,110.1" fill="#44ff8d"/>
<polygon points="573.1,108.9 578.5,104.9 572.6,103.8 567.2,107.6" fill="#46ff7a"/>
<polygon points="584.4,106.1 589.8,101.9 583.9,100.8 578.5,104.9" fill="#47ff66"/>
<polygon points="595.8,103.0 601.2,98.5 595.3,97.6 589.8,101.9" fill="#49ff51"/>
<polygon points="607.2,99.5 612.7,94.8 606.7,94.0 601.2,98.5" fill="#5cff4b"/>
<polygon points="618.7,95.7 624.2,90.6 618.1,89.9 612.7,94.8" fill="#7aff4c"/>
<polygon points="630.3,91.4 635.7,86.0 629.6,85.5 624.2,90.6" fill="#a3ff4e"/>
<polygon points="400.1,137.4 405.7,134.7 400.4,133.7 394.7,136.2" fill="#33a6ff"/>
<polygon points="411.1,136.0 416.7,133.3 411.3,132.2 405.7,134.7" fill="#34b4ff"/>
<polygon points="422.2,134.6 427.8,131.8 422.3,130.6 416.7,133.3" fill="#36c2ff"/>
<polygon points="433.3,133.2 438.8,130.4 433.4,129.1 427.8,131.8" fill="#37d0ff"/>
<polygon points="444.3,131.8 449.9,128.9 444.4,127.6 438.8,130.4" fill="#38dcff"/>
<polygon points="455.5,130.4 461.0,127.5 455.5,126.1 449.9,128.9" fill="#39e9ff"/>
<polygon points="466.6,128.9 472.1,126.0 466.5,124.6 461.0,127.5" fill="#3af5ff"/>
<polygon points="477.7,127.5 483.3,124.5 477.6,123.1 472.1,126.0" fill="#3bfffc"/>
<polygon points="488.9,126.0 494.4,122.9 488.8,121.5 483.3,124.5" fill="#3cffef"/>
<polygon points="500.1,124.5 505.6,121.3 499.9,119.9 494.4,122.9" fill="#3dffe3"/>
<polygon points="511.3,122.9 516.8,119.6 511.1,118.2 505.6,121.3" fill="#3effd6"/>
<polygon points="522.5,121.2 528.0,117.8 522.2,116.4 516.8,119.6" fill="#40ffc8"/>
<polygon points="533.7,119.4 539.2,115.9 533.4,114.5 528.0,117.8" fill="#41ffba"/>
<polygon points="545.0,117.4 550.5,113.8 544.7,112.4 539.2,115.9" fill="#42ffab"/>
<polygon points="556.3,115.2 561.7,111.5 555.9,110.1 550.5,113.8" fill="#43ff9b"/>
<polygon points="567.6,112.9 573.1,108.9 567.2,107.6 561.7,111.5" fill="#45ff8a"/>
<polygon points="579.0,110.3 584.4,106.1 578.5,104.9 573.1,108.9" fill="#46ff77"/>
<polygon points="590.4,107.4 595.8,103.0 589.8,101.9 584.4,106.1" fill="#48ff62"/>
<polygon points="601.8,104.1 607.2,99.5 601.2,98.5 595.8,103.0" fill="#49ff4c"/>
<polygon points="613.3,100.5 618.7,95.7 612.7,94.8 607.2,99.5" fill="#62ff4b"/>
<polygon points="624.8,96.5 630.3,91.4 624.2,90.6 618.7,95.7" fill="#83ff4d"/>
<polygon points="405.5,138.7 411.1,136.0 405.7,134.7 400.1,137.4" fill="#33adff"/>
<polygon points="416.6,137.4 422.2,134.6 416.7,133.3 411.1,136.0" fill="#34baff"/>
<polygon points="427.7,136.0 433.3,133.2 427.8,131.8 422.2,134.6" fill="#36c7ff"/>
<polygon points="438.8,134.7 444.3,131.8 438.8,130.4 433.3,133.2" fill="#37d4ff"/>
<polygon points="449.9,133.3 455.5,130.4 449.9,128.9 444.3,131.8" fill="#38e0ff"/>
<polygon points="461.0,132.0 466.6,128.9 461.0,127.5 455.5,130.4" fill="#39ecff"/>
<polygon points="472.2,130.6 477.7,127.5 472.1,126.0 466.6,128.9" fill="#3af8ff"/>
<polygon points="483.4,129.2 488.9,126.0 483.3,124.5 477.7,127.5" fill="#3bfff9"/>
<polygon points="494.6,127.7 500.1,124.5 494.4,122.9 488.9,126.0" fill="#3cffed"/>
<polygon points="505.8,126.2 511.3,122.9 505.6,121.3 500.1,124.5" fill="#3dffe1"/>
<polygon points="517.0,124.6 522.5,121.2 516.8,119.6 511.3,122.9" fill="#3effd4"/>
<polygon points="528.3,122.8 533.7,119.4 528.0,117.8 522.5,121.2" fill="#40ffc7"/>
<polygon points="539.6,121.0 545.0,117.4 539.2,115.9 533.7,119.4" fill="#41ffb8"/>
<polygon points="550.8,119.0 556.3,115.2 550.5,113.8 545.0,117.4" fill="#42ffa9"/>
<polygon points="562.2,116.8 567.6,112.9 561.7,111.5 556.3,115.2" fill="#43ff99"/>
<polygon points="573.5,114.3 579.0,110.3 573.1,108.9 567.6,112.9" fill="#45ff87"/>
<polygon points="584.9,111.6 590.4,107.4 584.4,106.1 579.0,110.3" fill="#46ff73"/>
<polygon points="596.3,108.6 601.8,104.1 595.8,103.0 590.4,107.4" fill="#48ff5e"/>
<polygon points="607.8,105.3 613.3,100.5 607.2,99.5 601.8,104.1" fill="#4bff49"/>
<polygon points="619.3,101.6 624.8,96.5 618.7,95.7 613.3,100.5" fill="#68ff4b"/>
<polygon points="410.9,140.2 416.6,137.4 411.1,136.0 405.5,138.7" fill="#33b2ff"/>
<polygon points="422.0,139.0 427.7,136.0 422.2,134.6 416.6,137.4" fill="#34bfff"/>
<polygon points="433.2,137.7 438.8,134.7 433.3,133.2 427.7,136.0" fill="#36cbff"/>
<polygon points="444.3,136.4 449.9,133.3 444.3,131.8 438.8,134.7" fill="#37d7ff"/>
<polygon points="455.5,135.0 461.0,132.0 455.5,130.4 449.9,133.3" fill="#38e3ff"/>
<polygon points="466.6,133.7 472.2,130.6 466.6,128.9 461.0,132.0" fill="#39eeff"/>
<polygon points="477.8,132.4 483.4,129.2 477.7,127.5 472.2,130.6" fill="#3afaff"/>
<polygon points="489.0,130.9 494.6,127.7 488.9,126.0 483.4,129.2" fill="#3bfff8"/>
<polygon points="500.3,129.5 505.8,126.2 500.1,124.5 494.6,127.7" fill="#3cffec"/>
<polygon points="511.5,128.0 517.0,124.6 511.3,122.9 505.8,126.2" fill="#3dffe0"/>
<polygon points="522.8,126.3 528.3,122.8 522.5,121.2 517.0,124.6" fill="#3effd3"/>
<polygon points="534.1,124.6 539.6,121.0 533.7,119.4 528.3,122.8" fill="#40ffc5"/>
<polygon points="545.4,122.7 550.8,119.0 545.0,117.4 539.6,121.0" fill="#41ffb7"/>
<polygon points="556.7,120.6 562.2,116.8 556.3,115.2 550.8,119.0" fill="#42ffa7"/>
<polygon points="568.1,118.4 573.5,114.3 567.6,112.9 562.2,116.8" fill="#43ff96"/>
<polygon points="579.4,115.9 584.9,111.6 579.0,110.3 573.5,114.3" fill="#45ff84"/>
<polygon points="590.9,113.1 596.3,108.6 590.4,107.4 584.9,111.6" fill="#46ff70"/>
<polygon points="602.3,110.0 607.8,105.3 601.8,104.1 596.3,108.6" fill="#48ff5b"/>
<polygon points="613.8,106.5 619.3,101.6 613.3,100.5 607.8,105.3" fill="#50ff4a"/>
<polygon points="416.4,142.0 422.0,139.0 416.6,137.4 410.9,140.2" fill="#33b6ff"/>
<polygon points="427.6,140.7 433.2,137.7 427.7,136.0 422.0,139.0" fill="#34c2ff"/>
<polygon points="438.7,139.5 444.3,136.4 438.8,134.7 433.2,137.7" fill="#36cdff"/>
<polygon points="449.9,138.2 455.5,135.0 449.9,133.3 444.3,136.4" fill="#37d9ff"/>
<polygon points="461.1,136.9 466.6,133.7 461.0,132.0 455.5,135.0" fill="#38e4ff"/>
<polygon points="472.3,135.6 477.8,132.4 472.2,130.6 466.6,133.7" fill="#39efff"/>
<polygon points="483.5,134.2 489.0,130.9 483.4,129.2 477.8,132.4" fill="#3afaff"/>
<polygon points="494.7,132.9 500.3,129.5 494.6,127.7 489.0,130.9" fill="#3bfff7"/>
<polygon points="506.0,131.4 511.5,128.0 505.8,126.2 500.3,129.5" fill="#3cffec"/>
<polygon points="517.3,129.8 522.8,126.3 517.0,124.6 511.5,128.0" fill="#3dffdf"/>
<polygon points="528.6,128.2 534.1,124.6 528.3,122.8 522.8,126.3" fill="#3effd2"/>
<polygon points="539.9,126.4 545.4,122.7 539.6,121.0 534.1,124.6" fill="#40ffc5"/>
<polygon points="551.2,124.5 556.7,120.6 550.8,119.0 545.4,122.7" fill="#41ffb6"/>
<polygon points="562.6,122.4 568.1,118.4 562.2,116.8 556.7,120.6" fill="#42ffa6"/>
<polygon points="574.0,120.0 579.4,115.9 573.5,114.3 568.1,118.4" fill="#43ff95"/>
<polygon points="585.4,117.4 590.9,113.1 584.9,111.6 579.4,115.9" fill="#45ff82"/>
<polygon points="596.9,114.5 602.3,110.0 596.3,108.6 590.9,113.1" fill="#46ff6d"/>
<polygon points="608.4,111.3 613.8,106.5 607.8,105.3 602.3,110.0" fill="#48ff57"/>
<polygon points="421.9,143.9 427.6,140.7 422.0,139.0 416.4,142.0" fill="#33b8ff"/>
<polygon points="433.1,142.7 438.7,139.5 433.2,137.7 427.6,140.7" fill="#34c3ff"/>
<polygon points="444.3,141.4 449.9,138.2 444.3,136.4 438.7,139.5" fill="#36ceff"/>
<polygon points="455.5,140.2 461.1,136.9 455.5,135.0 449.9,138.2" fill="#37d9ff"/>
<polygon points="466.7,138.9 472.3,135.6 466.6,133.7 461.1,136.9" fill="#38e4ff"/>
<polygon points="477.9,137.6 483.5,134.2 477.8,132.4 472.3,135.6" fill="#39efff"/>
<polygon points="489.2,136.3 494.7,132.9 489.0,130.9 483.5,134.2" fill="#3afaff"/>
<polygon points="500.5,134.9 506.0,131.4 500.3,129.5 494.7,132.9" fill="#3bfff8"/>
<polygon points="511.8,133.4 517.3,129.8 511.5,128.0 506.0,131.4" fill="#3cffec"/>
<polygon points="523.1,131.8 528.6,128.2 522.8,126.3 517.3,129.8" fill="#3dffe0"/>
<polygon points="534.4,130.1 539.9,126.4 534.1,124.6 528.6,128.2" fill="#3effd3"/>
<polygon points="545.7,128.3 551.2,124.5 545.4,122.7 539.9,126.4" fill="#40ffc5"/>
<polygon points="557.1,126.3 562.6,122.4 556.7,120.6 551.2,124.5" fill="#41ffb5"/>
<polygon points="568.5,124.1 574.0,120.0 568.1,118.4 562.6,122.4" fill="#42ffa5"/>
<polygon points="579.9,121.7 585.4,117.4 579.4,115.9 574.0,120.0" fill="#44ff93"/>
<polygon points="591.4,119.0 596.9,114.5 590.9,113.1 585.4,117.4" fill="#45ff80"/>
<polygon points="602.9,116.0 608.4,111.3 602.3,110.0 596.9,114.5" fill="#47ff6b"/>
<polygon points="427.5,145.9 433.1,142.7 427.6,140.7 421.9,143.9" fill="#33b8ff"/>
<polygon points="438.7,144.8 444.3,141.4 438.7,139.5 433.1,142.7" fill="#34c3ff"/>
<polygon points="449.9,143.5 455.5,140.2 449.9,138.2 444.3,141.4" fill="#36ceff"/>
<polygon points="461.1,142.3 466.7,138.9 461.1,136.9 455.5,140.2" fill="#37d8ff"/>
<polygon points="472.4,141.0 477.9,137.6 472.3,135.6 466.7,138.9" fill="#38e3ff"/>
<polygon points="483.6,139.7 489.2,136.3 483.5,134.2 477.9,137.6" fill="#39edff"/>
<polygon points="494.9,138.4 500.5,134.9 494.7,132.9 489.2,136.3" fill="#3af8ff"/>
<polygon points="506.2,137.0 511.8,133.4 506.0,131.4 500.5,134.9" fill="#3bfff9"/>
<polygon points="517.5,135.5 523.1,131.8 517.3,129.8 511.8,133.4" fill="#3cffed"/>
<polygon points="528.9,133.9 534.4,130.1 528.6,128.2 523.1,131.8" fill="#3dffe1"/>
<polygon points="540.2,132.1 545.7,128.3 539.9,126.4 534.4,130.1" fill="#3effd3"/>
<polygon points="551.6,130.3 557.1,126.3 551.2,124.5 545.7,128.3" fill="#40ffc5"/>
<polygon points="563.0,128.2 568.5,124.1 562.6,122.4 557.1,126.3" fill="#41ffb5"/>
<polygon points="574.4,125.9 579.9,121.7 574.0,120.0 568.5,124.1" fill="#42ffa4"/>
<polygon points="585.9,123.4 591.4,119.0 585.4,117.4 579.9,121.7" fill="#44ff92"/>
<polygon points="597.4,120.6 602.9,116.0 596.9,114.5 591.4,119.0" fill="#45ff7e"/>
<polygon points="433.0,148.2 438.7,144.8 433.1,142.7 427.5,145.9" fill="#33b7ff"/>
<polygon points="444.3,147.0 449.9,143.5 444.3,141.4 438.7,144.8" fill="#34c1ff"/>
<polygon points="455.5,145.8 461.1,142.3 455.5,140.2 449.9,143.5" fill="#35ccff"/>
<polygon points="466.8,144.6 472.4,141.0 466.7,138.9 461.1,142.3" fill="#37d6ff"/>
<polygon points="478.1,143.3 483.6,139.7 477.9,137.6 472.4,141.0" fill="#38e1ff"/>
<polygon points="489.4,142.0 494.9,138.4 489.2,136.3 483.6,139.7" fill="#39ebff"/>
<polygon points="500.7,140.6 506.2,137.0 500.5,134.9 494.9,138.4" fill="#3af6ff"/>
<polygon points="512.0,139.2 517.5,135.5 511.8,133.4 506.2,137.0" fill="#3bfffb"/>
<polygon points="523.3,137.6 528.9,133.9 523.1,131.8 517.5,135.5" fill="#3cffef"/>
<polygon points="534.7,136.0 540.2,132.1 534.4,130.1 528.9,133.9" fill="#3dffe2"/>
<polygon points="546.1,134.2 551.6,130.3 545.7,128.3 540.2,132.1" fill="#3effd5"/>
<polygon points="557.5,132.3 563.0,128.2 557.1,126.3 551.6,130.3" fill="#40ffc6"/>
<polygon points="568.9,130.1 574.4,125.9 568.5,124.1 563.0,128.2" fill="#41ffb6"/>
<polygon points="580.4,127.8 585.9,123.4 579.9,121.7 574.4,125.9" fill="#42ffa4"/>
<polygon points="591.9,125.1 597.4,120.6 591.4,119.0 585.9,123.4" fill="#44ff91"/>
<polygon points="438.6,150.5 444.3,147.0 438.7,144.8 433.0,148.2" fill="#33b5ff"/>
<polygon points="449.9,149.4 455.5,145.8 449.9,143.5 444.3,147.0" fill="#34bfff"/>
<polygon points="461.2,148.2 466.8,144.6 461.1,142.3 455.5,145.8" fill="#35c9ff"/>
<polygon points="472.5,146.9 478.1,143.3 472.4,141.0 466.8,144.6" fill="#37d3ff"/>
<polygon points="483.8,145.6 489.4,142.0 483.6,139.7 478.1,143.3" fill="#38deff"/>
<polygon points="495.1,144.3 500.7,140.6 494.9,138.4 489.4,142.0" fill="#39e8ff"/>
<polygon points="506.4,142.9 512.0,139.2 506.2,137.0 500.7,140.6" fill="#3af3ff"/>
<polygon points="517.8,141.4 523.3,137.6 517.5,135.5 512.0,139.2" fill="#3bfffe"/>
<polygon points="529.2,139.9 534.7,136.0 528.9,133.9 523.3,137.6" fill="#3cfff1"/>
<polygon points="540.6,138.2 546.1,134.2 540.2,132.1 534.7,136.0" fill="#3dffe4"/>
<polygon points="552.0,136.3 557.5,132.3 551.6,130.3 546.1,134.2" fill="#3effd6"/>
<polygon points="563.4,134.3 568.9,130.1 563.0,128.2 557.5,132.3" fill="#40ffc7"/>
<polygon points="574.9,132.1 580.4,127.8 574.4,125.9 568.9,130.1" fill="#41ffb6"/>
<polygon points="586.4,129.6 591.9,125.1 585.9,123.4 580.4,127.8" fill="#42ffa4"/>
<polygon points="444.3,153.1 449.9,149.4 444.3,147.0 438.6,150.5" fill="#33b1ff"/>
<polygon points="455.6,151.9 461.2,148.2 455.5,145.8 449.9,149.4" fill="#34bbff"/>
<polygon points="466.9,150.7 472.5,146.9 466.8,144.6 461.2,148.2" fill="#35c5ff"/>
<polygon points="478.2,149.4 483.8,145.6 478.1,143.3 472.5,146.9" fill="#36cfff"/>
<polygon points="489.5,148.1 495.1,144.3 489.4,142.0 483.8,145.6" fill="#38daff"/>
<polygon points="500.9,146.7 506.4,142.9 500.7,140.6 495.1,144.3" fill="#39e5ff"/>
<polygon points="512.2,145.3 517.8,141.4 512.0,139.2 506.4,142.9" fill="#3af0ff"/>
<polygon points="523.6,143.8 529.2,139.9 523.3,137.6 517.8,141.4" fill="#3bfcff"/>
<polygon points="535.0,142.1 540.6,138.2 534.7,136.0 529.2,139.9" fill="#3cfff4"/>
<polygon points="546.5,140.4 552.0,136.3 546.1,134.2 540.6,138.2" fill="#3dffe7"/>
<polygon points="557.9,138.4 563.4,134.3 557.5,132.3 552.0,136.3" fill="#3effd8"/>
<polygon points="569.4,136.3 574.9,132.1 568.9,130.1 563.4,134.3" fill="#40ffc8"/>
<polygon points="580.9,134.0 586.4,129.6 580.4,127.8 574.9,132.1" fill="#41ffb6"/>
<polygon points="449.9,155.7 455.6,151.9 449.9,149.4 444.3,153.1" fill="#33acff"/>
<polygon points="461.2,154.5 466.9,150.7 461.2,148.2 455.6,151.9" fill="#34b6ff"/>
<polygon points="472.6,153.3 478.2,149.4 472.5,146.9 466.9,150.7" fill="#35c0ff"/>
<polygon points="483.9,152.0 489.5,148.1 483.8,145.6 478.2,149.4" fill="#36cbff"/>
<polygon points="495.3,150.6 500.9,146.7 495.1,144.3 489.5,148.1" fill="#38d5ff"/>
<polygon points="506.7,149.2 512.2,145.3 506.4,142.9 500.9,146.7" fill="#39e0ff"/>
<polygon points="518.1,147.7 523.6,143.8 517.8,141.4 512.2,145.3" fill="#3aecff"/>
<polygon points="529.5,146.2 535.0,142.1 529.2,139.9 523.6,143.8" fill="#3bf8ff"/>
<polygon points="540.9,144.5 546.5,140.4 540.6,138.2 535.0,142.1" fill="#3cfff7"/>
<polygon points="552.4,142.6 557.9,138.4 552.0,136.3 546.5,140.4" fill="#3dffe9"/>
<polygon points="563.8,140.6 569.4,136.3 563.4,134.3 557.9,138.4" fill="#3effda"/>
<polygon points="575.3,138.4 580.9,134.0 574.9,132.1 569.4,136.3" fill="#40ffc9"/>
<polygon points="455.6,158.5 461.2,154.5 455.6,151.9 449.9,155.7" fill="#33a6ff"/>
<polygon points="466.9,157.3 472.6,153.3 466.9,150.7 461.2,154.5" fill="#34b0ff"/>
<polygon points="478.3,156.0 483.9,152.0 478.2,149.4 472.6,153.3" fill="#35bbff"/>
<polygon points="489.7,154.6 495.3,150.6 489.5,148.1 483.9,152.0" fill="#36c5ff"/>
<polygon points="501.1,153.3 506.7,149.2 500.9,146.7 495.3,150.6" fill="#37d0ff"/>
<polygon points="512.5,151.8 518.1,147.7 512.2,145.3 506.7,149.2" fill="#39dbff"/>
<polygon points="523.9,150.2 529.5,146.2 523.6,143.8 518.1,147.7" fill="#3ae7ff"/>
<polygon points="535.3,148.6 540.9,144.5 535.0,142.1 529.5,146.2" fill="#3bf4ff"/>
<polygon points="546.8,146.8 552.4,142.6 546.5,140.4 540.9,144.5" fill="#3cfffb"/>
<polygon points="558.3,144.9 563.8,140.6 557.9,138.4 552.4,142.6" fill="#3dffec"/>
<polygon points="569.8,142.8 575.3,138.4 569.4,136.3 563.8,140.6" fill="#3effdc"/>
<polygon points="461.3,161.4 466.9,157.3 461.2,154.5 455.6,158.5" fill="#33a0ff"/>
<polygon points="472.7,160.1 478.3,156.0 472.6,153.3 466.9,157.3" fill="#34aaff"/>
<polygon points="484.1,158.8 489.7,154.6 483.9,152.0 478.3,156.0" fill="#35b4ff"/>
<polygon points="495.5,157.4 501.1,153.3 495.3,150.6 489.7,154.6" fill="#36bfff"/>
<polygon points="506.9,155.9 512.5,151.8 506.7,149.2 501.1,153.3" fill="#37caff"/>
<polygon points="518.3,154.4 523.9,150.2 518.1,147.7 512.5,151.8" fill="#38d6ff"/>
<polygon points="529.8,152.8 535.3,148.6 529.5,146.2 523.9,150.2" fill="#3ae3ff"/>
<polygon points="541.2,151.0 546.8,146.8 540.9,144.5 535.3,148.6" fill="#3bf0ff"/>
<polygon points="552.7,149.2 558.3,144.9 552.4,142.6 546.8,146.8" fill="#3cfffe"/>
<polygon points="564.3,147.1 569.8,142.8 563.8,140.6 558.3,144.9" fill="#3dffef"/>
<polygon points="467.0,164.4 472.7,160.1 466.9,157.3 461.3,161.4" fill="#3398ff"/>
<polygon points="478.4,163.0 484.1,158.8 478.3,156.0 472.7,160.1" fill="#34a2ff"/>
<polygon points="489.9,161.6 495.5,157.4 489.7,154.6 484.1,158.8" fill="#35adff"/>
<polygon points="501.3,160.2 506.9,155.9 501.1,153.3 495.5,157.4" fill="#36b8ff"/>
<polygon points="512.7,158.7 518.3,154.4 512.5,151.8 506.9,155.9" fill="#37c4ff"/>
<polygon points="524.2,157.0 529.8,152.8 523.9,150.2 518.3,154.4" fill="#38d0ff"/>
<polygon points="535.7,155.3 541.2,151.0 535.3,148.6 529.8,152.8" fill="#39ddff"/>
<polygon points="547.2,153.5 552.7,149.2 546.8,146.8 541.2,151.0" fill="#3becff"/>
<polygon points="558.7,151.5 564.3,147.1 558.3,144.9 552.7,149.2" fill="#3cfbff"/>
<polygon points="472.8,167.4 478.4,163.0 472.7,160.1 467.0,164.4" fill="#338fff"/>
<polygon points="484.2,166.0 489.9,161.6 484.1,158.8 478.4,163.0" fill="#349aff"/>
<polygon points="495.7,164.5 501.3,160.2 495.5,157.4 489.9,161.6" fill="#35a5ff"/>
<polygon points="507.1,163.0 512.7,158.7 506.9,155.9 501.3,160.2" fill="#36b1ff"/>
<polygon points="518.6,161.4 524.2,157.0 518.3,154.4 512.7,158.7" fill="#37bdff"/>
<polygon points="530.1,159.7 535.7,155.3 529.8,152.8 524.2,157.0" fill="#38caff"/>
<polygon points="541.6,157.9 547.2,153.5 541.2,151.0 535.7,155.3" fill="#39d8ff"/>
<polygon points="553.1,156.0 558.7,151.5 552.7,149.2 547.2,153.5" fill="#3be7ff"/>
<polygon points="478.6,170.6 484.2,166.0 478.4,163.0 472.8,167.4" fill="#3386ff"/>
<polygon points="490.0,169.1 495.7,164.5 489.9,161.6 484.2,166.0" fill="#3491ff"/>
<polygon points="501.5,167.5 507.1,163.0 501.3,160.2 495.7,164.5" fill="#359dff"/>
<polygon points="513.0,165.9 518.6,161.4 512.7,158.7 507.1,163.0" fill="#36a9ff"/>
<polygon points="524.5,164.2 530.1,159.7 524.2,157.0 518.6,161.4" fill="#37b6ff"/>
<polygon points="536.0,162.4 541.6,157.9 535.7,155.3 530.1,159.7" fill="#38c4ff"/>
<polygon points="547.5,160.5 553.1,156.0 547.2,153.5 541.6,157.9" fill="#39d3ff"/>
<polygon points="484.4,173.7 490.0,169.1 484.2,166.0 478.6,170.6" fill="#337cff"/>
<polygon points="495.9,172.2 501.5,167.5 495.7,164.5 490.0,169.1" fill="#3487ff"/>
<polygon points="507.3,170.5 513.0,165.9 507.1,163.0 501.5,167.5" fill="#3594ff"/>
<polygon points="518.8,168.8 524.5,164.2 518.6,161.4 513.0,165.9" fill="#36a1ff"/>
<polygon points="530.4,167.0 536.0,162.4 530.1,159.7 524.5,164.2" fill="#37afff"/>
<polygon points="541.9,165.0 547.5,160.5 541.6,157.9 536.0,162.4" fill="#38beff"/>
<polygon points="490.2,177.0 495.9,172.2 490.0,169.1 484.4,173.7" fill="#3371ff"/>
<polygon points="501.7,175.3 507.3,170.5 501.5,167.5 495.9,172.2" fill="#347eff"/>
<polygon points="513.2,173.5 518.8,168.8 513.0,165.9 507.3,170.5" fill="#358bff"/>
<polygon points="524.7,171.7 530.4,167.0 524.5,164.2 518.8,168.8" fill="#3699ff"/>
<polygon points="536.3,169.7 541.9,165.0 536.0,162.4 530.4,167.0" fill="#37a8ff"/>
<polygon points="496.0,180.2 501.7,175.3 495.9,172.2 490.2,177.0" fill="#3366ff"/>
<polygon points="507.6,178.4 513.2,173.5 507.3,170.5 501.7,175.3" fill="#3474ff"/>
<polygon points="519.1,176.5 524.7,171.7 518.8,168.8 513.2,173.5" fill="#3582ff"/>
<polygon points="530.7,174.5 536.3,169.7 530.4,167.0 524.7,171.7" fill="#3691ff"/>
<polygon points="501.9,183.5 507.6,178.4 501.7,175.3 496.0,180.2" fill="#335bff"/>
<polygon points="513.5,181.6 519.1,176.5 513.2,173.5 507.6,178.4" fill="#3469ff"/>
<polygon points="525.0,179.5 530.7,174.5 524.7,171.7 519.1,176.5" fill="#3578ff"/>
<polygon points="507.8,186.8 513.5,181.6 507.6,178.4 501.9,183.5" fill="#334fff"/>
<polygon points="519.4,184.7 525.0,179.5 519.1,176.5 513.5,181.6" fill="#345fff"/>
<polygon points="513.7,190.0 519.4,184.7 513.5,181.6 507.8,186.8" fill="#3344ff"/>
</g>
<circle cx="513.9" cy="192.8" r="2.6" fill="#ffc6ce" stroke="#b58c94" stroke-width="0.5"/>
<circle cx="641.2" cy="80.1" r="2.6" fill="#c4000a" stroke="#6a0000" stroke-width="0.5"/>
<circle cx="389.7" cy="136.3" r="2.6" fill="#ffc6ce" stroke="#b58c94" stroke-width="0.5"/>
<circle cx="513.8" cy="89.9" r="2.6" fill="#c4000a" stroke="#6a0000" stroke-width="0.5"/>
<circle cx="513.8" cy="105.4" r="2.6" fill="#c4000a" stroke="#6a0000" stroke-width="0.5"/>
<circle cx="513.8" cy="114.4" r="2.6" fill="#c4000a" stroke="#6a0000" stroke-width="0.5"/>
<circle cx="390.1" cy="148.7" r="1.0" fill="#000"/>
<text x="386.5" y="147.8" font-size="5.6" text-anchor="end" fill="#222">60</text>
<circle cx="389.3" cy="134.0" r="1.0" fill="#000"/>
<text x="385.7" y="133.1" font-size="5.6" text-anchor="end" fill="#222">80</text>
<circle cx="388.6" cy="119.2" r="1.0" fill="#000"/>
<text x="385.0" y="118.3" font-size="5.6" text-anchor="end" fill="#222">100</text>
<circle cx="387.8" cy="104.5" r="1.0" fill="#000"/>
<text x="384.2" y="103.6" font-size="5.6" text-anchor="end" fill="#222">120</text>
<circle cx="387.1" cy="89.8" r="1.0" fill="#000"/>
<text x="383.4" y="88.9" font-size="5.6" text-anchor="end" fill="#222">140</text>
<circle cx="386.3" cy="75.1" r="1.0" fill="#000"/>
<text x="382.7" y="74.2" font-size="5.6" text-anchor="end" fill="#222">160</text>
<circle cx="385.5" cy="60.3" r="1.0" fill="#000"/>
<text x="381.9" y="59.4" font-size="5.6" text-anchor="end" fill="#222">180</text>
<circle cx="384.8" cy="45.6" r="1.0" fill="#000"/>
<text x="381.2" y="44.7" font-size="5.6" text-anchor="end" fill="#222">200</text>
<circle cx="384.0" cy="30.9" r="1.0" fill="#000"/>
<text x="380.4" y="30.0" font-size="5.6" text-anchor="end" fill="#222">220</text>
<text x="517.1" y="244.6" font-size="5.7" fill="#222">2.375</text>
<text x="541.3" y="233.8" font-size="5.7" fill="#222">3.325</text>
<text x="565.6" y="223.0" font-size="5.7" fill="#222">4.275</text>
<text x="589.8" y="212.1" font-size="5.7" fill="#222">5.225</text>
<text x="614.1" y="201.3" font-size="5.7" fill="#222">6.175</text>
<text x="638.3" y="190.5" font-size="5.7" fill="#222">7.125</text>
<text x="511.1" y="244.6" font-size="5.7" text-anchor="end" fill="#222">5</text>
<text x="486.6" y="233.6" font-size="5.7" text-anchor="end" fill="#222">6</text>
<text x="462.1" y="222.6" font-size="5.7" text-anchor="end" fill="#222">7</text>
<text x="437.7" y="211.7" font-size="5.7" text-anchor="end" fill="#222">8</text>
<text x="413.2" y="200.7" font-size="5.7" text-anchor="end" fill="#222">9</text>
<text x="388.7" y="189.7" font-size="5.7" text-anchor="end" fill="#222">10</text>
<g stroke="#2a2a2a" stroke-width="0.7" fill="none">
<line x1="209.6" y1="304.1" x2="221.3" y2="461.8" />
<line x1="504.3" y1="298.8" x2="492.9" y2="454.5" />
<line x1="237.8" y1="295.7" x2="244.8" y2="414.0" />
<line x1="473.5" y1="291.4" x2="466.3" y2="407.8" />
<line x1="266.0" y1="287.3" x2="271.2" y2="403.3" />
<line x1="442.8" y1="284.1" x2="437.4" y2="398.6" />
<line x1="294.1" y1="278.8" x2="297.6" y2="392.6" />
<line x1="412.0" y1="276.7" x2="408.4" y2="389.5" />
<line x1="322.3" y1="270.4" x2="324.0" y2="381.9" />
<line x1="381.3" y1="269.4" x2="379.4" y2="380.4" />
<line x1="350.5" y1="262.0" x2="350.6" y2="405.7" />
<line x1="218.4" y1="424.7" x2="350.4" y2="371.3" />
<line x1="350.4" y1="371.3" x2="495.3" y2="416.9" />
<line x1="217.3" y1="409.6" x2="350.4" y2="357.6" />
<line x1="350.4" y1="357.6" x2="496.4" y2="402.1" />
<line x1="216.2" y1="394.5" x2="350.4" y2="343.9" />
<line x1="350.4" y1="343.9" x2="497.6" y2="387.4" />
<line x1="215.1" y1="379.5" x2="350.5" y2="330.3" />
<line x1="350.5" y1="330.3" x2="498.7" y2="372.6" />
<line x1="214.0" y1="364.4" x2="350.5" y2="316.6" />
<line x1="350.5" y1="316.6" x2="499.8" y2="357.9" />
<line x1="212.9" y1="349.3" x2="350.5" y2="303.0" />
<line x1="350.5" y1="303.0" x2="500.9" y2="343.1" />
<line x1="211.8" y1="334.2" x2="350.5" y2="289.3" />
<line x1="350.5" y1="289.3" x2="502.1" y2="328.3" />
<line x1="210.7" y1="319.2" x2="350.5" y2="275.7" />
<line x1="350.5" y1="275.7" x2="503.2" y2="313.6" />
<line x1="209.6" y1="304.1" x2="350.5" y2="262.0" />
<line x1="350.5" y1="262.0" x2="504.3" y2="298.8" />
</g>
<polygon points="367.4,523.6 492.9,454.5 350.6,405.7 221.3,461.8" fill="#656565" stroke="#2a2a2a" stroke-width="0.6" stroke-linejoin="round"/>
<clipPath id="clipC"><polygon points="367.4,523.6 492.9,454.5 350.6,405.7 221.3,461.8"/></clipPath>
<g clip-path="url(#clipC)">
<path d="M250.4,474.0 C253.5,474.4 262.5,474.9 269.1,476.2 C275.7,477.5 283.7,479.7 289.9,481.6 C296.1,483.5 302.5,485.3 306.5,487.4 C310.5,489.5 312.4,491.7 314.0,494.1 C315.6,496.5 315.8,500.4 316.1,501.6" fill="none" stroke="#2fc6d6" stroke-width="1.25" stroke-linecap="round"/>
<path d="M324.0,425.0 C324.0,427.3 323.8,434.0 324.0,438.7 C324.2,443.4 324.4,448.8 325.3,453.3 C326.2,457.8 327.0,461.8 329.4,465.8 C331.8,469.8 334.6,473.9 339.8,477.4 C345.0,480.9 352.3,484.0 360.6,486.6 C368.9,489.2 380.1,491.3 389.8,492.8 C399.5,494.3 414.0,495.2 418.9,495.7" fill="none" stroke="#2fc6d6" stroke-width="1.25" stroke-linecap="round"/>
<path d="M362.0,452.0 C364.2,453.1 370.6,456.0 375.2,458.3 C379.8,460.6 383.1,462.8 389.7,465.8 C396.3,468.8 406.0,473.4 414.7,476.2 C423.4,479.0 437.3,481.5 441.8,482.6" fill="none" stroke="#2fcf8f" stroke-width="1.25" stroke-linecap="round"/>
<path d="M385.0,437.0 C387.2,438.3 393.2,441.9 398.1,445.0 C403.1,448.1 407.8,451.9 414.7,455.4 C421.6,458.9 432.4,462.8 439.7,465.8 C447.0,468.8 455.3,472.1 458.4,473.3" fill="none" stroke="#4fd035" stroke-width="1.25" stroke-linecap="round"/>
<path d="M395.0,428.0 C397.6,429.4 404.5,433.4 410.6,436.6 C416.7,439.8 423.8,443.2 431.4,447.0 C439.0,450.8 449.9,456.2 456.3,459.5 C462.7,462.8 467.4,465.7 469.6,466.9" fill="none" stroke="#a6d02f" stroke-width="1.25" stroke-linecap="round"/>
<path d="M410.0,424.0 C412.9,425.4 420.9,429.4 427.2,432.5 C433.5,435.6 441.1,439.4 448.0,442.9 C454.9,446.4 463.2,450.4 468.8,453.3 C474.4,456.2 479.2,459.4 481.3,460.6" fill="none" stroke="#e3c22f" stroke-width="1.25" stroke-linecap="round"/>
</g>
<circle cx="367.4" cy="523.6" r="1.1" fill="#000"/>
<circle cx="367.4" cy="523.6" r="1.1" fill="#000"/>
<circle cx="392.5" cy="509.8" r="1.1" fill="#000"/>
<circle cx="338.2" cy="511.2" r="1.1" fill="#000"/>
<circle cx="417.6" cy="496.0" r="1.1" fill="#000"/>
<circle cx="309.0" cy="498.9" r="1.1" fill="#000"/>
<circle cx="442.7" cy="482.1" r="1.1" fill="#000"/>
<circle cx="279.7" cy="486.5" r="1.1" fill="#000"/>
<circle cx="467.8" cy="468.3" r="1.1" fill="#000"/>
<circle cx="250.5" cy="474.2" r="1.1" fill="#000"/>
<circle cx="492.9" cy="454.5" r="1.1" fill="#000"/>
<circle cx="221.3" cy="461.8" r="1.1" fill="#000"/>
<circle cx="503.1" cy="329.7" r="2.6" fill="#ffc6ce" stroke="#b58c94" stroke-width="0.5"/>
<circle cx="348.9" cy="330.1" r="2.6" fill="#ffc6ce" stroke="#b58c94" stroke-width="0.5"/>
<g stroke="#1a1a1a" stroke-opacity="0.85" stroke-width="0.42" stroke-linejoin="round">
<polygon points="351.1,334.3 357.5,327.7 350.5,329.3 344.0,335.7" fill="#69ff6d"/>
<polygon points="344.6,340.7 351.1,334.3 344.0,335.7 337.6,341.9" fill="#66ff83"/>
<polygon points="358.2,333.2 364.7,326.3 357.5,327.7 351.1,334.3" fill="#7cff6a"/>
<polygon points="338.2,346.8 344.6,340.7 337.6,341.9 331.1,347.7" fill="#63ff98"/>
<polygon points="351.7,339.8 358.2,333.2 351.1,334.3 344.6,340.7" fill="#67ff6f"/>
<polygon points="365.4,332.3 371.9,325.1 364.7,326.3 358.2,333.2" fill="#91ff6b"/>
<polygon points="345.2,346.1 351.7,339.8 344.6,340.7 338.2,346.8" fill="#63ff85"/>
<polygon points="358.9,339.1 365.4,332.3 358.2,333.2 351.7,339.8" fill="#72ff68"/>
<polygon points="331.7,352.7 338.2,346.8 331.1,347.7 324.7,353.3" fill="#5fffac"/>
<polygon points="372.6,331.5 379.1,324.1 371.9,325.1 365.4,332.3" fill="#a8ff6c"/>
<polygon points="325.2,358.2 331.7,352.7 324.7,353.3 318.2,358.7" fill="#5cffbf"/>
<polygon points="338.8,352.2 345.2,346.1 338.2,346.8 331.7,352.7" fill="#60ff9a"/>
<polygon points="352.4,345.7 358.9,339.1 351.7,339.8 345.2,346.1" fill="#64ff74"/>
<polygon points="366.1,338.6 372.6,331.5 365.4,332.3 358.9,339.1" fill="#83ff68"/>
<polygon points="379.9,331.0 386.5,323.4 379.1,324.1 372.6,331.5" fill="#beff6d"/>
<polygon points="332.3,357.9 338.8,352.2 331.7,352.7 325.2,358.2" fill="#5dffad"/>
<polygon points="373.4,338.3 379.9,331.0 372.6,331.5 366.1,338.6" fill="#96ff69"/>
<polygon points="318.7,363.4 325.2,358.2 318.2,358.7 311.7,363.7" fill="#59ffd0"/>
<polygon points="345.9,351.9 352.4,345.7 345.2,346.1 338.8,352.2" fill="#61ff89"/>
<polygon points="359.6,345.4 366.1,338.6 358.9,339.1 352.4,345.7" fill="#65ff65"/>
<polygon points="387.3,330.7 393.8,322.8 386.5,323.4 379.9,331.0" fill="#d2ff6e"/>
<polygon points="312.2,368.3 318.7,363.4 311.7,363.7 305.2,368.4" fill="#56ffe3"/>
<polygon points="325.8,363.3 332.3,357.9 325.2,358.2 318.7,363.4" fill="#5affc0"/>
<polygon points="339.4,357.8 345.9,351.9 338.8,352.2 332.3,357.9" fill="#5dff9e"/>
<polygon points="353.1,351.8 359.6,345.4 352.4,345.7 345.9,351.9" fill="#61ff7a"/>
<polygon points="366.9,345.3 373.4,338.3 366.1,338.6 359.6,345.4" fill="#74ff65"/>
<polygon points="380.7,338.2 387.3,330.7 379.9,331.0 373.4,338.3" fill="#a9ff6a"/>
<polygon points="394.7,330.5 401.3,322.4 393.8,322.8 387.3,330.7" fill="#e4ff6e"/>
<polygon points="305.6,372.9 312.2,368.3 305.2,368.4 298.6,372.8" fill="#53fffd"/>
<polygon points="319.2,368.4 325.8,363.3 318.7,363.4 312.2,368.3" fill="#57ffd4"/>
<polygon points="332.9,363.4 339.4,357.8 332.3,357.9 325.8,363.3" fill="#5affb1"/>
<polygon points="346.6,357.9 353.1,351.8 345.9,351.9 339.4,357.8" fill="#5eff8f"/>
<polygon points="360.3,351.9 366.9,345.3 359.6,345.4 353.1,351.8" fill="#62ff6d"/>
<polygon points="374.2,345.4 380.7,338.2 373.4,338.3 366.9,345.3" fill="#82ff66"/>
<polygon points="388.1,338.3 394.7,330.5 387.3,330.7 380.7,338.2" fill="#baff6a"/>
<polygon points="402.1,330.5 408.7,322.2 401.3,322.4 394.7,330.5" fill="#f5ff6f"/>
<polygon points="312.7,373.2 319.2,368.4 312.2,368.3 305.6,372.9" fill="#54ffee"/>
<polygon points="326.3,368.7 332.9,363.4 325.8,363.3 319.2,368.4" fill="#57ffc5"/>
<polygon points="353.8,358.2 360.3,351.9 353.1,351.8 346.6,357.9" fill="#5eff82"/>
<polygon points="381.5,345.6 388.1,338.3 380.7,338.2 374.2,345.4" fill="#91ff66"/>
<polygon points="395.5,338.5 402.1,330.5 394.7,330.5 388.1,338.3" fill="#caff6b"/>
<polygon points="299.1,377.2 305.6,372.9 298.6,372.8 292.1,376.9" fill="#51e2ff"/>
<polygon points="340.0,363.7 346.6,357.9 339.4,357.8 332.9,363.4" fill="#5affa3"/>
<polygon points="367.6,352.2 374.2,345.4 366.9,345.3 360.3,351.9" fill="#64ff62"/>
<polygon points="409.6,330.7 416.3,322.2 408.7,322.2 402.1,330.5" fill="#fffa6f"/>
<polygon points="292.4,381.1 299.1,377.2 292.1,376.9 285.4,380.7" fill="#4ec5ff"/>
<polygon points="306.1,377.6 312.7,373.2 305.6,372.9 299.1,377.2" fill="#51f1ff"/>
<polygon points="319.8,373.6 326.3,368.7 319.2,368.4 312.7,373.2" fill="#54ffe0"/>
<polygon points="333.5,369.1 340.0,363.7 332.9,363.4 326.3,368.7" fill="#57ffb8"/>
<polygon points="347.3,364.2 353.8,358.2 346.6,357.9 340.0,363.7" fill="#5bff96"/>
<polygon points="361.1,358.7 367.6,352.2 360.3,351.9 353.8,358.2" fill="#5eff76"/>
<polygon points="375.0,352.7 381.5,345.6 374.2,345.4 367.6,352.2" fill="#70ff62"/>
<polygon points="388.9,346.1 395.5,338.5 388.1,338.3 381.5,345.6" fill="#a0ff67"/>
<polygon points="403.0,338.9 409.6,330.7 402.1,330.5 395.5,338.5" fill="#d7ff6b"/>
<polygon points="417.2,331.1 423.8,322.3 416.3,322.2 409.6,330.7" fill="#fff070"/>
<polygon points="299.5,381.7 306.1,377.6 299.1,377.2 292.4,381.1" fill="#4ed2ff"/>
<polygon points="340.7,369.8 347.3,364.2 340.0,363.7 333.5,369.1" fill="#57ffac"/>
<polygon points="368.4,359.3 375.0,352.7 367.6,352.2 361.1,358.7" fill="#5fff6b"/>
<polygon points="410.5,339.4 417.2,331.1 409.6,330.7 403.0,338.9" fill="#e1ff6b"/>
<polygon points="285.8,384.7 292.4,381.1 285.4,380.7 278.8,384.1" fill="#4babff"/>
<polygon points="313.2,378.2 319.8,373.6 312.7,373.2 306.1,377.6" fill="#51fffe"/>
<polygon points="327.0,374.2 333.5,369.1 326.3,368.7 319.8,373.6" fill="#54ffd2"/>
<polygon points="354.6,364.8 361.1,358.7 353.8,358.2 347.3,364.2" fill="#5bff8b"/>
<polygon points="382.4,353.3 388.9,346.1 381.5,345.6 375.0,352.7" fill="#7bff63"/>
<polygon points="396.4,346.7 403.0,338.9 395.5,338.5 388.9,346.1" fill="#adff67"/>
<polygon points="424.8,331.5 431.4,322.5 423.8,322.3 417.2,331.1" fill="#ffe770"/>
<polygon points="279.1,387.9 285.8,384.7 278.8,384.1 272.1,387.2" fill="#499bff"/>
<polygon points="292.9,385.4 299.5,381.7 292.4,381.1 285.8,384.7" fill="#4bb8ff"/>
<polygon points="306.6,382.5 313.2,378.2 306.1,377.6 299.5,381.7" fill="#4ee0ff"/>
<polygon points="320.4,379.0 327.0,374.2 319.8,373.6 313.2,378.2" fill="#51fff1"/>
<polygon points="334.2,375.0 340.7,369.8 333.5,369.1 327.0,374.2" fill="#54ffc6"/>
<polygon points="348.0,370.6 354.6,364.8 347.3,364.2 340.7,369.8" fill="#57ffa1"/>
<polygon points="361.9,365.6 368.4,359.3 361.1,358.7 354.6,364.8" fill="#5bff81"/>
<polygon points="375.8,360.1 382.4,353.3 375.0,352.7 368.4,359.3" fill="#5fff62"/>
<polygon points="389.8,354.1 396.4,346.7 388.9,346.1 382.4,353.3" fill="#85ff63"/>
<polygon points="403.9,347.4 410.5,339.4 403.0,338.9 396.4,346.7" fill="#b7ff67"/>
<polygon points="418.1,340.1 424.8,331.5 417.2,331.1 410.5,339.4" fill="#eaff6c"/>
<polygon points="432.4,332.2 439.1,322.9 431.4,322.5 424.8,331.5" fill="#ffe070"/>
<polygon points="272.4,390.8 279.1,387.9 272.1,387.2 265.4,389.9" fill="#4692ff"/>
<polygon points="286.2,388.8 292.9,385.4 285.8,384.7 279.1,387.9" fill="#49a7ff"/>
<polygon points="300.0,386.4 306.6,382.5 299.5,381.7 292.9,385.4" fill="#4bc6ff"/>
<polygon points="313.8,383.4 320.4,379.0 313.2,378.2 306.6,382.5" fill="#4eeeff"/>
<polygon points="327.6,379.9 334.2,375.0 327.0,374.2 320.4,379.0" fill="#51ffe4"/>
<polygon points="341.4,376.0 348.0,370.6 340.7,369.8 334.2,375.0" fill="#54ffbb"/>
<polygon points="355.3,371.6 361.9,365.6 354.6,364.8 348.0,370.6" fill="#58ff98"/>
<polygon points="369.3,366.6 375.8,360.1 368.4,359.3 361.9,365.6" fill="#5bff78"/>
<polygon points="383.2,361.1 389.8,354.1 382.4,353.3 375.8,360.1" fill="#65ff5f"/>
<polygon points="397.3,355.0 403.9,347.4 396.4,346.7 389.8,354.1" fill="#8eff63"/>
<polygon points="411.5,348.3 418.1,340.1 410.5,339.4 403.9,347.4" fill="#c0ff68"/>
<polygon points="425.7,341.0 432.4,332.2 424.8,331.5 418.1,340.1" fill="#f2ff6c"/>
<polygon points="440.1,332.9 446.8,323.4 439.1,322.9 432.4,332.2" fill="#ffd971"/>
<polygon points="265.6,393.3 272.4,390.8 265.4,389.9 258.6,392.2" fill="#448fff"/>
<polygon points="279.5,391.9 286.2,388.8 279.1,387.9 272.4,390.8" fill="#469dff"/>
<polygon points="293.3,389.9 300.0,386.4 292.9,385.4 286.2,388.8" fill="#49b4ff"/>
<polygon points="321.0,384.5 327.6,379.9 320.4,379.0 313.8,383.4" fill="#4efbff"/>
<polygon points="348.8,377.1 355.3,371.6 348.0,370.6 341.4,376.0" fill="#54ffb2"/>
<polygon points="362.7,372.7 369.3,366.6 361.9,365.6 355.3,371.6" fill="#58ff8f"/>
<polygon points="390.7,362.2 397.3,355.0 389.8,354.1 383.2,361.1" fill="#6eff5f"/>
<polygon points="419.0,349.3 425.7,341.0 418.1,340.1 411.5,348.3" fill="#c8ff68"/>
<polygon points="433.4,341.9 440.1,332.9 432.4,332.2 425.7,341.0" fill="#f9ff6c"/>
<polygon points="447.8,333.7 454.6,324.1 446.8,323.4 440.1,332.9" fill="#ffd371"/>
<polygon points="307.1,387.5 313.8,383.4 306.6,382.5 300.0,386.4" fill="#4bd4ff"/>
<polygon points="334.9,381.1 341.4,376.0 334.2,375.0 327.6,379.9" fill="#51ffd8"/>
<polygon points="376.7,367.7 383.2,361.1 375.8,360.1 369.3,366.6" fill="#5bff6f"/>
<polygon points="404.8,356.1 411.5,348.3 403.9,347.4 397.3,355.0" fill="#98ff63"/>
<polygon points="258.8,395.5 265.6,393.3 258.6,392.2 251.7,394.2" fill="#4291ff"/>
<polygon points="272.7,394.6 279.5,391.9 272.4,390.8 265.6,393.3" fill="#449aff"/>
<polygon points="286.6,393.1 293.3,389.9 286.2,388.8 279.5,391.9" fill="#46a9ff"/>
<polygon points="300.5,391.2 307.1,387.5 300.0,386.4 293.3,389.9" fill="#49c1ff"/>
<polygon points="314.4,388.7 321.0,384.5 313.8,383.4 307.1,387.5" fill="#4be2ff"/>
<polygon points="328.3,385.8 334.9,381.1 327.6,379.9 321.0,384.5" fill="#4efff5"/>
<polygon points="342.2,382.3 348.8,377.1 341.4,376.0 334.9,381.1" fill="#51ffcd"/>
<polygon points="356.1,378.4 362.7,372.7 355.3,371.6 348.8,377.1" fill="#54ffa9"/>
<polygon points="370.1,374.0 376.7,367.7 369.3,366.6 362.7,372.7" fill="#58ff87"/>
<polygon points="384.1,369.0 390.7,362.2 383.2,361.1 376.7,367.7" fill="#5cff68"/>
<polygon points="398.2,363.4 404.8,356.1 397.3,355.0 390.7,362.2" fill="#75ff60"/>
<polygon points="412.4,357.3 419.0,349.3 411.5,348.3 404.8,356.1" fill="#a0ff64"/>
<polygon points="426.7,350.5 433.4,341.9 425.7,341.0 419.0,349.3" fill="#cfff68"/>
<polygon points="441.1,342.9 447.8,333.7 440.1,332.9 433.4,341.9" fill="#fffe6c"/>
<polygon points="455.5,334.7 462.4,324.8 454.6,324.1 447.8,333.7" fill="#ffce71"/>
<polygon points="265.9,396.9 272.7,394.6 265.6,393.3 258.8,395.5" fill="#429bff"/>
<polygon points="335.6,387.2 342.2,382.3 334.9,381.1 328.3,385.8" fill="#4effe9"/>
<polygon points="377.6,375.4 384.1,369.0 376.7,367.7 370.1,374.0" fill="#58ff81"/>
<polygon points="448.8,344.1 455.5,334.7 447.8,333.7 441.1,342.9" fill="#fff96c"/>
<polygon points="251.9,397.2 258.8,395.5 251.7,394.2 244.8,395.8" fill="#4096ff"/>
<polygon points="279.8,395.9 286.6,393.1 279.5,391.9 272.7,394.6" fill="#44a5ff"/>
<polygon points="293.8,394.5 300.5,391.2 293.3,389.9 286.6,393.1" fill="#46b6ff"/>
<polygon points="307.7,392.5 314.4,388.7 307.1,387.5 300.5,391.2" fill="#49cfff"/>
<polygon points="321.6,390.1 328.3,385.8 321.0,384.5 314.4,388.7" fill="#4befff"/>
<polygon points="349.5,383.7 356.1,378.4 348.8,377.1 342.2,382.3" fill="#51ffc4"/>
<polygon points="363.5,379.8 370.1,374.0 362.7,372.7 356.1,378.4" fill="#55ffa1"/>
<polygon points="391.6,370.4 398.2,363.4 390.7,362.2 384.1,369.0" fill="#5cff62"/>
<polygon points="405.8,364.8 412.4,357.3 404.8,356.1 398.2,363.4" fill="#7bff60"/>
<polygon points="420.0,358.6 426.7,350.5 419.0,349.3 412.4,357.3" fill="#a7ff64"/>
<polygon points="434.4,351.7 441.1,342.9 433.4,341.9 426.7,350.5" fill="#d6ff68"/>
<polygon points="463.4,335.7 470.2,325.6 462.4,324.8 455.5,334.7" fill="#ffc971"/>
<polygon points="259.0,398.8 265.9,396.9 258.8,395.5 251.9,397.2" fill="#409eff"/>
<polygon points="456.6,345.3 463.4,335.7 455.5,334.7 448.8,344.1" fill="#fff46c"/>
<polygon points="244.9,398.6 251.9,397.2 244.8,395.8 237.8,397.0" fill="#3e9eff"/>
<polygon points="273.0,398.4 279.8,395.9 272.7,394.6 265.9,396.9" fill="#42a5ff"/>
<polygon points="287.0,397.5 293.8,394.5 286.6,393.1 279.8,395.9" fill="#44b1ff"/>
<polygon points="301.0,396.0 307.7,392.5 300.5,391.2 293.8,394.5" fill="#46c3ff"/>
<polygon points="315.0,394.1 321.6,390.1 314.4,388.7 307.7,392.5" fill="#49dcff"/>
<polygon points="329.0,391.6 335.6,387.2 328.3,385.8 321.6,390.1" fill="#4bfcff"/>
<polygon points="342.9,388.7 349.5,383.7 342.2,382.3 335.6,387.2" fill="#4effde"/>
<polygon points="356.9,385.3 363.5,379.8 356.1,378.4 349.5,383.7" fill="#51ffbb"/>
<polygon points="371.0,381.4 377.6,375.4 370.1,374.0 363.5,379.8" fill="#55ff9a"/>
<polygon points="385.1,376.9 391.6,370.4 384.1,369.0 377.6,375.4" fill="#58ff7b"/>
<polygon points="399.2,371.9 405.8,364.8 398.2,363.4 391.6,370.4" fill="#5cff5c"/>
<polygon points="413.4,366.3 420.0,358.6 412.4,357.3 405.8,364.8" fill="#81ff60"/>
<polygon points="427.7,360.0 434.4,351.7 426.7,350.5 420.0,358.6" fill="#aeff64"/>
<polygon points="442.1,353.0 448.8,344.1 441.1,342.9 434.4,351.7" fill="#dbff68"/>
<polygon points="471.2,336.8 478.1,326.4 470.2,325.6 463.4,335.7" fill="#ffc571"/>
<polygon points="237.9,399.6 244.9,398.6 237.8,397.0 230.8,397.8" fill="#3caaff"/>
<polygon points="252.1,400.3 259.0,398.8 251.9,397.2 244.9,398.6" fill="#3ea5ff"/>
<polygon points="266.2,400.5 273.0,398.4 265.9,396.9 259.0,398.8" fill="#40a8ff"/>
<polygon points="280.2,400.1 287.0,397.5 279.8,395.9 273.0,398.4" fill="#42b1ff"/>
<polygon points="294.3,399.1 301.0,396.0 293.8,394.5 287.0,397.5" fill="#44beff"/>
<polygon points="308.3,397.7 315.0,394.1 307.7,392.5 301.0,396.0" fill="#46d0ff"/>
<polygon points="322.3,395.8 329.0,391.6 321.6,390.1 315.0,394.1" fill="#49e9ff"/>
<polygon points="336.3,393.3 342.9,388.7 335.6,387.2 329.0,391.6" fill="#4bfff6"/>
<polygon points="350.3,390.4 356.9,385.3 349.5,383.7 342.9,388.7" fill="#4effd5"/>
<polygon points="364.4,387.0 371.0,381.4 363.5,379.8 356.9,385.3" fill="#51ffb5"/>
<polygon points="378.5,383.0 385.1,376.9 377.6,375.4 371.0,381.4" fill="#55ff95"/>
<polygon points="392.6,378.6 399.2,371.9 391.6,370.4 385.1,376.9" fill="#58ff76"/>
<polygon points="406.8,373.5 413.4,366.3 405.8,364.8 399.2,371.9" fill="#61ff5c"/>
<polygon points="421.0,367.8 427.7,360.0 420.0,358.6 413.4,366.3" fill="#86ff60"/>
<polygon points="435.4,361.5 442.1,353.0 434.4,351.7 427.7,360.0" fill="#b4ff64"/>
<polygon points="449.8,354.4 456.6,345.3 448.8,344.1 442.1,353.0" fill="#e0ff68"/>
<polygon points="464.4,346.6 471.2,336.8 463.4,335.7 456.6,345.3" fill="#fff06c"/>
<polygon points="479.1,337.9 486.0,327.4 478.1,326.4 471.2,336.8" fill="#ffc171"/>
<polygon points="230.8,400.1 237.9,399.6 230.8,397.8 223.7,398.2" fill="#3ac9ff"/>
<polygon points="245.1,401.5 252.1,400.3 244.9,398.6 237.9,399.6" fill="#3cb1ff"/>
<polygon points="259.3,402.2 266.2,400.5 259.0,398.8 252.1,400.3" fill="#3eaeff"/>
<polygon points="273.4,402.3 280.2,400.1 273.0,398.4 266.2,400.5" fill="#3fb2ff"/>
<polygon points="287.5,401.9 294.3,399.1 287.0,397.5 280.2,400.1" fill="#41bcff"/>
<polygon points="301.6,401.0 308.3,397.7 301.0,396.0 294.3,399.1" fill="#44caff"/>
<polygon points="315.6,399.5 322.3,395.8 315.0,394.1 308.3,397.7" fill="#46dcff"/>
<polygon points="329.7,397.6 336.3,393.3 329.0,391.6 322.3,395.8" fill="#49f4ff"/>
<polygon points="357.8,392.2 364.4,387.0 356.9,385.3 350.3,390.4" fill="#4effce"/>
<polygon points="386.0,384.8 392.6,378.6 385.1,376.9 378.5,383.0" fill="#55ff91"/>
<polygon points="400.2,380.3 406.8,373.5 399.2,371.9 392.6,378.6" fill="#58ff71"/>
<polygon points="414.4,375.2 421.0,367.8 413.4,366.3 406.8,373.5" fill="#65ff5c"/>
<polygon points="428.7,369.5 435.4,361.5 427.7,360.0 421.0,367.8" fill="#8cff60"/>
<polygon points="443.1,363.1 449.8,354.4 442.1,353.0 435.4,361.5" fill="#b9ff64"/>
<polygon points="457.6,355.9 464.4,346.6 456.6,345.3 449.8,354.4" fill="#e4ff68"/>
<polygon points="472.2,347.9 479.1,337.9 471.2,336.8 464.4,346.6" fill="#ffec6c"/>
<polygon points="487.0,339.1 494.0,328.3 486.0,327.4 479.1,337.9" fill="#ffbe70"/>
<polygon points="343.7,395.1 350.3,390.4 342.9,388.7 336.3,393.3" fill="#4bffed"/>
<polygon points="371.9,388.8 378.5,383.0 371.0,381.4 364.4,387.0" fill="#51ffb0"/>
<polygon points="223.6,400.3 230.8,400.1 223.7,398.2 216.5,398.1" fill="#38ecff"/>
<polygon points="238.0,402.2 245.1,401.5 237.9,399.6 230.8,400.1" fill="#3aceff"/>
<polygon points="252.3,403.5 259.3,402.2 252.1,400.3 245.1,401.5" fill="#3cb8ff"/>
<polygon points="266.5,404.2 273.4,402.3 266.2,400.5 259.3,402.2" fill="#3db7ff"/>
<polygon points="280.7,404.3 287.5,401.9 280.2,400.1 273.4,402.3" fill="#3fbdff"/>
<polygon points="294.8,403.8 301.6,401.0 294.3,399.1 287.5,401.9" fill="#41c7ff"/>
<polygon points="308.9,402.9 315.6,399.5 308.3,397.7 301.6,401.0" fill="#44d5ff"/>
<polygon points="323.0,401.4 329.7,397.6 322.3,395.8 315.6,399.5" fill="#46e6ff"/>
<polygon points="337.1,399.5 343.7,395.1 336.3,393.3 329.7,397.6" fill="#49fdff"/>
<polygon points="351.2,397.1 357.8,392.2 350.3,390.4 343.7,395.1" fill="#4bffe5"/>
<polygon points="365.3,394.1 371.9,388.8 364.4,387.0 357.8,392.2" fill="#4effc9"/>
<polygon points="379.4,390.7 386.0,384.8 378.5,383.0 371.9,388.8" fill="#51ffac"/>
<polygon points="393.6,386.7 400.2,380.3 392.6,378.6 386.0,384.8" fill="#55ff8d"/>
<polygon points="407.8,382.2 414.4,375.2 406.8,373.5 400.2,380.3" fill="#58ff6e"/>
<polygon points="422.1,377.0 428.7,369.5 421.0,367.8 414.4,375.2" fill="#69ff5c"/>
<polygon points="436.4,371.2 443.1,363.1 435.4,361.5 428.7,369.5" fill="#91ff60"/>
<polygon points="450.9,364.7 457.6,355.9 449.8,354.4 443.1,363.1" fill="#bdff64"/>
<polygon points="465.5,357.4 472.2,347.9 464.4,346.6 457.6,355.9" fill="#e8ff68"/>
<polygon points="480.1,349.3 487.0,339.1 479.1,337.9 472.2,347.9" fill="#ffe96c"/>
<polygon points="495.0,340.2 502.0,329.2 494.0,328.3 487.0,339.1" fill="#ffbb70"/>
<polygon points="230.9,402.6 238.0,402.2 230.8,400.1 223.6,400.3" fill="#38f0ff"/>
<polygon points="302.1,405.9 308.9,402.9 301.6,401.0 294.8,403.8" fill="#41d2ff"/>
<polygon points="415.5,384.1 422.1,377.0 414.4,375.2 407.8,382.2" fill="#58ff6a"/>
<polygon points="488.1,350.7 495.0,340.2 487.0,339.1 480.1,349.3" fill="#ffe66c"/>
<polygon points="245.2,404.5 252.3,403.5 245.1,401.5 238.0,402.2" fill="#3ad3ff"/>
<polygon points="259.5,405.7 266.5,404.2 259.3,402.2 252.3,403.5" fill="#3cc1ff"/>
<polygon points="273.8,406.3 280.7,404.3 273.4,402.3 266.5,404.2" fill="#3dc1ff"/>
<polygon points="288.0,406.4 294.8,403.8 287.5,401.9 280.7,404.3" fill="#3fc8ff"/>
<polygon points="316.3,405.0 323.0,401.4 315.6,399.5 308.9,402.9" fill="#43dfff"/>
<polygon points="330.4,403.5 337.1,399.5 329.7,397.6 323.0,401.4" fill="#46efff"/>
<polygon points="344.5,401.6 351.2,397.1 343.7,395.1 337.1,399.5" fill="#48fff9"/>
<polygon points="358.7,399.1 365.3,394.1 357.8,392.2 351.2,397.1" fill="#4bffe1"/>
<polygon points="372.8,396.2 379.4,390.7 371.9,388.8 365.3,394.1" fill="#4effc6"/>
<polygon points="387.0,392.7 393.6,386.7 386.0,384.8 379.4,390.7" fill="#51ffa8"/>
<polygon points="401.2,388.7 407.8,382.2 400.2,380.3 393.6,386.7" fill="#55ff89"/>
<polygon points="429.8,378.9 436.4,371.2 428.7,369.5 422.1,377.0" fill="#6cff5c"/>
<polygon points="444.2,373.0 450.9,364.7 443.1,363.1 436.4,371.2" fill="#95ff60"/>
<polygon points="458.7,366.4 465.5,357.4 457.6,355.9 450.9,364.7" fill="#c1ff64"/>
<polygon points="473.3,359.0 480.1,349.3 472.2,347.9 465.5,357.4" fill="#ebff68"/>
<polygon points="238.1,405.0 245.2,404.5 238.0,402.2 230.9,402.6" fill="#38f3ff"/>
<polygon points="266.9,408.0 273.8,406.3 266.5,404.2 259.5,405.7" fill="#3cc9ff"/>
<polygon points="295.3,408.6 302.1,405.9 294.8,403.8 288.0,406.4" fill="#3fd2ff"/>
<polygon points="309.5,408.1 316.3,405.0 308.9,402.9 302.1,405.9" fill="#41dcff"/>
<polygon points="337.9,405.7 344.5,401.6 337.1,399.5 330.4,403.5" fill="#46f5ff"/>
<polygon points="380.4,398.3 387.0,392.7 379.4,390.7 372.8,396.2" fill="#4effc3"/>
<polygon points="408.8,390.8 415.5,384.1 407.8,382.2 401.2,388.7" fill="#55ff87"/>
<polygon points="423.1,386.2 429.8,378.9 422.1,377.0 415.5,384.1" fill="#58ff68"/>
<polygon points="452.0,374.9 458.7,366.4 450.9,364.7 444.2,373.0" fill="#9aff60"/>
<polygon points="481.2,360.5 488.1,350.7 480.1,349.3 473.3,359.0" fill="#efff68"/>
<polygon points="252.5,406.8 259.5,405.7 252.3,403.5 245.2,404.5" fill="#3ad9ff"/>
<polygon points="281.1,408.6 288.0,406.4 280.7,404.3 273.8,406.3" fill="#3dcbff"/>
<polygon points="323.7,407.1 330.4,403.5 323.0,401.4 316.3,405.0" fill="#43e7ff"/>
<polygon points="352.0,403.7 358.7,399.1 351.2,397.1 344.5,401.6" fill="#48fff5"/>
<polygon points="366.2,401.3 372.8,396.2 365.3,394.1 358.7,399.1" fill="#4bffde"/>
<polygon points="394.6,394.8 401.2,388.7 393.6,386.7 387.0,392.7" fill="#51ffa5"/>
<polygon points="437.5,380.9 444.2,373.0 436.4,371.2 429.8,378.9" fill="#6fff5c"/>
<polygon points="466.6,368.1 473.3,359.0 465.5,357.4 458.7,366.4" fill="#c5ff64"/>
<polygon points="288.5,410.9 295.3,408.6 288.0,406.4 281.1,408.6" fill="#3dd4ff"/>
<polygon points="331.2,409.4 337.9,405.7 330.4,403.5 323.7,407.1" fill="#43edff"/>
<polygon points="388.0,400.6 394.6,394.8 387.0,392.7 380.4,398.3" fill="#4effc1"/>
<polygon points="430.9,388.2 437.5,380.9 429.8,378.9 423.1,386.2" fill="#58ff65"/>
<polygon points="245.4,407.6 252.5,406.8 245.2,404.5 238.1,405.0" fill="#38f6ff"/>
<polygon points="259.9,409.3 266.9,408.0 259.5,405.7 252.5,406.8" fill="#3adfff"/>
<polygon points="274.2,410.4 281.1,408.6 273.8,406.3 266.9,408.0" fill="#3bd2ff"/>
<polygon points="302.8,410.9 309.5,408.1 302.1,405.9 295.3,408.6" fill="#3fdbff"/>
<polygon points="317.0,410.4 323.7,407.1 316.3,405.0 309.5,408.1" fill="#41e3ff"/>
<polygon points="345.4,407.9 352.0,403.7 344.5,401.6 337.9,405.7" fill="#46f9ff"/>
<polygon points="359.6,406.0 366.2,401.3 358.7,399.1 352.0,403.7" fill="#48fff3"/>
<polygon points="373.8,403.5 380.4,398.3 372.8,396.2 366.2,401.3" fill="#4bffdb"/>
<polygon points="402.2,397.0 408.8,390.8 401.2,388.7 394.6,394.8" fill="#51ffa3"/>
<polygon points="416.5,392.9 423.1,386.2 415.5,384.1 408.8,390.8" fill="#55ff84"/>
<polygon points="445.3,382.9 452.0,374.9 444.2,373.0 437.5,380.9" fill="#72ff5c"/>
<polygon points="459.8,376.8 466.6,368.1 458.7,366.4 452.0,374.9" fill="#9dff60"/>
<polygon points="474.5,369.9 481.2,360.5 473.3,359.0 466.6,368.1" fill="#c9ff64"/>
<polygon points="252.8,410.2 259.9,409.3 252.5,406.8 245.4,407.6" fill="#38f8ff"/>
<polygon points="281.6,412.9 288.5,410.9 281.1,408.6 274.2,410.4" fill="#3bdaff"/>
<polygon points="295.9,413.4 302.8,410.9 295.3,408.6 288.5,410.9" fill="#3ddcff"/>
<polygon points="324.4,412.8 331.2,409.4 323.7,407.1 317.0,410.4" fill="#41e8ff"/>
<polygon points="338.7,411.8 345.4,407.9 337.9,405.7 331.2,409.4" fill="#43f0ff"/>
<polygon points="352.9,410.3 359.6,406.0 352.0,403.7 345.4,407.9" fill="#46fbff"/>
<polygon points="367.1,408.3 373.8,403.5 366.2,401.3 359.6,406.0" fill="#48fff1"/>
<polygon points="381.4,405.9 388.0,400.6 380.4,398.3 373.8,403.5" fill="#4bffda"/>
<polygon points="395.6,402.9 402.2,397.0 394.6,394.8 388.0,400.6" fill="#4effbf"/>
<polygon points="424.3,395.2 430.9,388.2 423.1,386.2 416.5,392.9" fill="#55ff82"/>
<polygon points="438.7,390.4 445.3,382.9 437.5,380.9 430.9,388.2" fill="#58ff63"/>
<polygon points="467.7,378.7 474.5,369.9 466.6,368.1 459.8,376.8" fill="#a1ff60"/>
<polygon points="267.2,411.8 274.2,410.4 266.9,408.0 259.9,409.3" fill="#3ae4ff"/>
<polygon points="310.2,413.4 317.0,410.4 309.5,408.1 302.8,410.9" fill="#3fe2ff"/>
<polygon points="409.9,399.3 416.5,392.9 408.8,390.8 402.2,397.0" fill="#51ffa1"/>
<polygon points="453.1,384.9 459.8,376.8 452.0,374.9 445.3,382.9" fill="#74ff5c"/>
<polygon points="260.2,413.0 267.2,411.8 259.9,409.3 252.8,410.2" fill="#38f9ff"/>
<polygon points="274.7,414.5 281.6,412.9 274.2,410.4 267.2,411.8" fill="#3ae8ff"/>
<polygon points="289.0,415.5 295.9,413.4 288.5,410.9 281.6,412.9" fill="#3be1ff"/>
<polygon points="303.4,416.0 310.2,413.4 302.8,410.9 295.9,413.4" fill="#3de3ff"/>
<polygon points="317.7,415.9 324.4,412.8 317.0,410.4 310.2,413.4" fill="#3fe6ff"/>
<polygon points="332.0,415.3 338.7,411.8 331.2,409.4 324.4,412.8" fill="#41eaff"/>
<polygon points="346.2,414.3 352.9,410.3 345.4,407.9 338.7,411.8" fill="#43f1ff"/>
<polygon points="360.5,412.8 367.1,408.3 359.6,406.0 352.9,410.3" fill="#46fcff"/>
<polygon points="374.7,410.8 381.4,405.9 373.8,403.5 367.1,408.3" fill="#48ffef"/>
<polygon points="389.0,408.3 395.6,402.9 388.0,400.6 381.4,405.9" fill="#4bffd8"/>
<polygon points="403.3,405.2 409.9,399.3 402.2,397.0 395.6,402.9" fill="#4effbd"/>
<polygon points="417.6,401.6 424.3,395.2 416.5,392.9 409.9,399.3" fill="#51ffa0"/>
<polygon points="432.0,397.4 438.7,390.4 430.9,388.2 424.3,395.2" fill="#55ff81"/>
<polygon points="446.5,392.5 453.1,384.9 445.3,382.9 438.7,390.4" fill="#58ff61"/>
<polygon points="461.0,386.9 467.7,378.7 459.8,376.8 453.1,384.9" fill="#76ff5c"/>
<polygon points="267.6,415.8 274.7,414.5 267.2,411.8 260.2,413.0" fill="#38faff"/>
<polygon points="454.3,394.7 461.0,386.9 453.1,384.9 446.5,392.5" fill="#58ff5f"/>
<polygon points="282.1,417.3 289.0,415.5 281.6,412.9 274.7,414.5" fill="#3aecff"/>
<polygon points="296.5,418.2 303.4,416.0 295.9,413.4 289.0,415.5" fill="#3be7ff"/>
<polygon points="310.9,418.6 317.7,415.9 310.2,413.4 303.4,416.0" fill="#3de6ff"/>
<polygon points="325.2,418.5 332.0,415.3 324.4,412.8 317.7,415.9" fill="#3fe7ff"/>
<polygon points="339.5,417.9 346.2,414.3 338.7,411.8 332.0,415.3" fill="#41eaff"/>
<polygon points="353.8,416.9 360.5,412.8 352.9,410.3 346.2,414.3" fill="#43f2ff"/>
<polygon points="368.1,415.3 374.7,410.8 367.1,408.3 360.5,412.8" fill="#46fdff"/>
<polygon points="382.4,413.3 389.0,408.3 381.4,405.9 374.7,410.8" fill="#48ffee"/>
<polygon points="396.7,410.8 403.3,405.2 395.6,402.9 389.0,408.3" fill="#4bffd7"/>
<polygon points="411.0,407.7 417.6,401.6 409.9,399.3 403.3,405.2" fill="#4effbc"/>
<polygon points="425.4,404.0 432.0,397.4 424.3,395.2 417.6,401.6" fill="#51ff9f"/>
<polygon points="439.8,399.7 446.5,392.5 438.7,390.4 432.0,397.4" fill="#55ff7f"/>
<polygon points="275.1,418.8 282.1,417.3 274.7,414.5 267.6,415.8" fill="#38faff"/>
<polygon points="304.0,421.0 310.9,418.6 303.4,416.0 296.5,418.2" fill="#3be9ff"/>
<polygon points="332.8,421.2 339.5,417.9 332.0,415.3 325.2,418.5" fill="#3fe6ff"/>
<polygon points="347.1,420.6 353.8,416.9 346.2,414.3 339.5,417.9" fill="#41eaff"/>
<polygon points="361.4,419.5 368.1,415.3 360.5,412.8 353.8,416.9" fill="#43f2ff"/>
<polygon points="375.8,418.0 382.4,413.3 374.7,410.8 368.1,415.3" fill="#46feff"/>
<polygon points="390.1,415.9 396.7,410.8 389.0,408.3 382.4,413.3" fill="#48ffee"/>
<polygon points="418.8,410.1 425.4,404.0 417.6,401.6 411.0,407.7" fill="#4effbc"/>
<polygon points="447.7,402.0 454.3,394.7 446.5,392.5 439.8,399.7" fill="#55ff7e"/>
<polygon points="289.6,420.2 296.5,418.2 289.0,415.5 282.1,417.3" fill="#3aeeff"/>
<polygon points="318.4,421.4 325.2,418.5 317.7,415.9 310.9,418.6" fill="#3de6ff"/>
<polygon points="404.4,413.3 411.0,407.7 403.3,405.2 396.7,410.8" fill="#4bffd7"/>
<polygon points="433.2,406.4 439.8,399.7 432.0,397.4 425.4,404.0" fill="#51ff9e"/>
<polygon points="354.7,423.4 361.4,419.5 353.8,416.9 347.1,420.6" fill="#41e9ff"/>
<polygon points="369.1,422.3 375.8,418.0 368.1,415.3 361.4,419.5" fill="#43f2ff"/>
<polygon points="282.7,421.8 289.6,420.2 282.1,417.3 275.1,418.8" fill="#38f9ff"/>
<polygon points="297.2,423.1 304.0,421.0 296.5,418.2 289.6,420.2" fill="#3aeeff"/>
<polygon points="311.6,423.9 318.4,421.4 310.9,418.6 304.0,421.0" fill="#3be7ff"/>
<polygon points="326.0,424.2 332.8,421.2 325.2,418.5 318.4,421.4" fill="#3de4ff"/>
<polygon points="340.4,424.0 347.1,420.6 339.5,417.9 332.8,421.2" fill="#3fe4ff"/>
<polygon points="383.4,420.6 390.1,415.9 382.4,413.3 375.8,418.0" fill="#46feff"/>
<polygon points="397.8,418.5 404.4,413.3 396.7,410.8 390.1,415.9" fill="#48ffed"/>
<polygon points="412.2,415.9 418.8,410.1 411.0,407.7 404.4,413.3" fill="#4bffd6"/>
<polygon points="426.6,412.7 433.2,406.4 425.4,404.0 418.8,410.1" fill="#4effbb"/>
<polygon points="441.0,408.8 447.7,402.0 439.8,399.7 433.2,406.4" fill="#51ff9d"/>
<polygon points="290.2,424.9 297.2,423.1 289.6,420.2 282.7,421.8" fill="#38f6ff"/>
<polygon points="319.2,426.9 326.0,424.2 318.4,421.4 311.6,423.9" fill="#3be4ff"/>
<polygon points="333.6,427.1 340.4,424.0 332.8,421.2 326.0,424.2" fill="#3de1ff"/>
<polygon points="348.0,426.9 354.7,423.4 347.1,420.6 340.4,424.0" fill="#3fe2ff"/>
<polygon points="362.4,426.2 369.1,422.3 361.4,419.5 354.7,423.4" fill="#41e8ff"/>
<polygon points="376.8,425.0 383.4,420.6 375.8,418.0 369.1,422.3" fill="#43f1ff"/>
<polygon points="391.2,423.4 397.8,418.5 390.1,415.9 383.4,420.6" fill="#46feff"/>
<polygon points="405.6,421.2 412.2,415.9 404.4,413.3 397.8,418.5" fill="#48ffed"/>
<polygon points="434.4,415.2 441.0,408.8 433.2,406.4 426.6,412.7" fill="#4effba"/>
<polygon points="304.7,426.2 311.6,423.9 304.0,421.0 297.2,423.1" fill="#3aebff"/>
<polygon points="420.0,418.5 426.6,412.7 418.8,410.1 412.2,415.9" fill="#4bffd6"/>
<polygon points="297.8,428.1 304.7,426.2 297.2,423.1 290.2,424.9" fill="#38f2ff"/>
<polygon points="312.3,429.3 319.2,426.9 311.6,423.9 304.7,426.2" fill="#3ae7ff"/>
<polygon points="326.8,429.9 333.6,427.1 326.0,424.2 319.2,426.9" fill="#3be0ff"/>
<polygon points="341.3,430.1 348.0,426.9 340.4,424.0 333.6,427.1" fill="#3dddff"/>
<polygon points="355.7,429.9 362.4,426.2 354.7,423.4 348.0,426.9" fill="#3fe0ff"/>
<polygon points="370.1,429.1 376.8,425.0 369.1,422.3 362.4,426.2" fill="#41e7ff"/>
<polygon points="384.5,427.9 391.2,423.4 383.4,420.6 376.8,425.0" fill="#43f0ff"/>
<polygon points="398.9,426.2 405.6,421.2 397.8,418.5 391.2,423.4" fill="#46fdff"/>
<polygon points="413.4,423.9 420.0,418.5 412.2,415.9 405.6,421.2" fill="#48ffee"/>
<polygon points="427.8,421.1 434.4,415.2 426.6,412.7 420.0,418.5" fill="#4bffd6"/>
<polygon points="305.4,431.4 312.3,429.3 304.7,426.2 297.8,428.1" fill="#38ecff"/>
<polygon points="320.0,432.5 326.8,429.9 319.2,426.9 312.3,429.3" fill="#3ae1ff"/>
<polygon points="334.5,433.1 341.3,430.1 333.6,427.1 326.8,429.9" fill="#3bdbff"/>
<polygon points="349.0,433.2 355.7,429.9 348.0,426.9 341.3,430.1" fill="#3ddaff"/>
<polygon points="363.4,432.8 370.1,429.1 362.4,426.2 355.7,429.9" fill="#3fddff"/>
<polygon points="377.9,432.0 384.5,427.9 376.8,425.0 370.1,429.1" fill="#41e5ff"/>
<polygon points="392.3,430.8 398.9,426.2 391.2,423.4 384.5,427.9" fill="#43efff"/>
<polygon points="406.7,429.0 413.4,423.9 405.6,421.2 398.9,426.2" fill="#46fdff"/>
<polygon points="421.2,426.7 427.8,421.1 420.0,418.5 413.4,423.9" fill="#48ffee"/>
<polygon points="313.1,434.7 320.0,432.5 312.3,429.3 305.4,431.4" fill="#38e5ff"/>
<polygon points="327.7,435.7 334.5,433.1 326.8,429.9 320.0,432.5" fill="#3adbff"/>
<polygon points="342.2,436.2 349.0,433.2 341.3,430.1 334.5,433.1" fill="#3bd6ff"/>
<polygon points="356.7,436.3 363.4,432.8 355.7,429.9 349.0,433.2" fill="#3dd6ff"/>
<polygon points="371.2,435.9 377.9,432.0 370.1,429.1 363.4,432.8" fill="#3fdbff"/>
<polygon points="385.6,435.0 392.3,430.8 384.5,427.9 377.9,432.0" fill="#41e3ff"/>
<polygon points="400.1,433.7 406.7,429.0 398.9,426.2 392.3,430.8" fill="#43eeff"/>
<polygon points="414.6,431.8 421.2,426.7 413.4,423.9 406.7,429.0" fill="#46fcff"/>
<polygon points="320.8,438.1 327.7,435.7 320.0,432.5 313.1,434.7" fill="#38deff"/>
<polygon points="335.4,439.0 342.2,436.2 334.5,433.1 327.7,435.7" fill="#3ad4ff"/>
<polygon points="393.5,438.0 400.1,433.7 392.3,430.8 385.6,435.0" fill="#41e2ff"/>
<polygon points="407.9,436.6 414.6,431.8 406.7,429.0 400.1,433.7" fill="#43edff"/>
<polygon points="349.9,439.5 356.7,436.3 349.0,433.2 342.2,436.2" fill="#3bd0ff"/>
<polygon points="364.5,439.5 371.2,435.9 363.4,432.8 356.7,436.3" fill="#3dd2ff"/>
<polygon points="379.0,439.0 385.6,435.0 377.9,432.0 371.2,435.9" fill="#3fd8ff"/>
<polygon points="328.6,441.6 335.4,439.0 327.7,435.7 320.8,438.1" fill="#38d6ff"/>
<polygon points="401.3,441.0 407.9,436.6 400.1,433.7 393.5,438.0" fill="#41e1ff"/>
<polygon points="343.2,442.4 349.9,439.5 342.2,436.2 335.4,439.0" fill="#3aceff"/>
<polygon points="357.7,442.7 364.5,439.5 356.7,436.3 349.9,439.5" fill="#3bccff"/>
<polygon points="372.3,442.6 379.0,439.0 371.2,435.9 364.5,439.5" fill="#3dcfff"/>
<polygon points="386.8,442.1 393.5,438.0 385.6,435.0 379.0,439.0" fill="#3fd6ff"/>
<polygon points="336.3,445.1 343.2,442.4 335.4,439.0 328.6,441.6" fill="#38ceff"/>
<polygon points="350.9,445.8 357.7,442.7 349.9,439.5 343.2,442.4" fill="#3ac8ff"/>
<polygon points="365.5,446.1 372.3,442.6 364.5,439.5 357.7,442.7" fill="#3bc8ff"/>
<polygon points="380.1,445.9 386.8,442.1 379.0,439.0 372.3,442.6" fill="#3dccff"/>
<polygon points="394.6,445.2 401.3,441.0 393.5,438.0 386.8,442.1" fill="#3fd5ff"/>
<polygon points="358.8,449.2 365.5,446.1 357.7,442.7 350.9,445.8" fill="#3ac3ff"/>
<polygon points="373.4,449.4 380.1,445.9 372.3,442.6 365.5,446.1" fill="#3bc5ff"/>
<polygon points="344.1,448.7 350.9,445.8 343.2,442.4 336.3,445.1" fill="#38c7ff"/>
<polygon points="388.0,449.1 394.6,445.2 386.8,442.1 380.1,445.9" fill="#3dcaff"/>
<polygon points="352.0,452.2 358.8,449.2 350.9,445.8 344.1,448.7" fill="#38c2ff"/>
<polygon points="366.6,452.7 373.4,449.4 365.5,446.1 358.8,449.2" fill="#3abfff"/>
<polygon points="381.3,452.7 388.0,449.1 380.1,445.9 373.4,449.4" fill="#3bc2ff"/>
<polygon points="359.9,455.9 366.6,452.7 358.8,449.2 352.0,452.2" fill="#38bdff"/>
<polygon points="374.5,456.2 381.3,452.7 373.4,449.4 366.6,452.7" fill="#3abcff"/>
<polygon points="367.8,459.5 374.5,456.2 366.6,452.7 359.9,455.9" fill="#38b9ff"/>
</g>
<circle cx="367.4" cy="460.3" r="2.6" fill="#c4000a" stroke="#6a0000" stroke-width="0.5"/>
<circle cx="216.4" cy="398.0" r="2.6" fill="#c4000a" stroke="#6a0000" stroke-width="0.5"/>
<circle cx="358.0" cy="377.6" r="2.6" fill="#c4000a" stroke="#6a0000" stroke-width="0.5"/>
<circle cx="358.0" cy="386.7" r="2.6" fill="#c4000a" stroke="#6a0000" stroke-width="0.5"/>
<circle cx="218.4" cy="424.7" r="1.0" fill="#000"/>
<text x="214.8" y="423.8" font-size="5.6" text-anchor="end" fill="#222">60</text>
<circle cx="217.3" cy="409.6" r="1.0" fill="#000"/>
<text x="213.7" y="408.7" font-size="5.6" text-anchor="end" fill="#222">80</text>
<circle cx="216.2" cy="394.5" r="1.0" fill="#000"/>
<text x="212.6" y="393.6" font-size="5.6" text-anchor="end" fill="#222">100</text>
<circle cx="215.1" cy="379.5" r="1.0" fill="#000"/>
<text x="211.5" y="378.6" font-size="5.6" text-anchor="end" fill="#222">120</text>
<circle cx="214.0" cy="364.4" r="1.0" fill="#000"/>
<text x="210.4" y="363.5" font-size="5.6" text-anchor="end" fill="#222">140</text>
<circle cx="212.9" cy="349.3" r="1.0" fill="#000"/>
<text x="209.3" y="348.4" font-size="5.6" text-anchor="end" fill="#222">160</text>
<circle cx="211.8" cy="334.2" r="1.0" fill="#000"/>
<text x="208.2" y="333.4" font-size="5.6" text-anchor="end" fill="#222">180</text>
<circle cx="210.7" cy="319.2" r="1.0" fill="#000"/>
<text x="207.1" y="318.3" font-size="5.6" text-anchor="end" fill="#222">200</text>
<circle cx="209.6" cy="304.1" r="1.0" fill="#000"/>
<text x="206.0" y="303.2" font-size="5.6" text-anchor="end" fill="#222">220</text>
<text x="370.6" y="528.9" font-size="5.7" fill="#222">2.5</text>
<text x="395.7" y="515.1" font-size="5.7" fill="#222">3.5</text>
<text x="420.8" y="501.3" font-size="5.7" fill="#222">4.5</text>
<text x="445.9" y="487.4" font-size="5.7" fill="#222">5.5</text>
<text x="471.0" y="473.6" font-size="5.7" fill="#222">6.5</text>
<text x="496.1" y="459.8" font-size="5.7" fill="#222">7.5</text>
<text x="364.6" y="528.9" font-size="5.7" text-anchor="end" fill="#222">5</text>
<text x="335.4" y="516.5" font-size="5.7" text-anchor="end" fill="#222">6</text>
<text x="306.2" y="504.2" font-size="5.7" text-anchor="end" fill="#222">7</text>
<text x="276.9" y="491.8" font-size="5.7" text-anchor="end" fill="#222">8</text>
<text x="247.7" y="479.5" font-size="5.7" text-anchor="end" fill="#222">9</text>
<text x="218.5" y="467.1" font-size="5.7" text-anchor="end" fill="#222">10</text>

<g fill="#1e1e1e" stroke="#1e1e1e" stroke-width="0.18">
<text x="2.4" y="25.4" font-size="12.4" font-weight="bold" fill="#000">A.</text>
<text x="345.4" y="25.4" font-size="12.4" font-weight="bold" fill="#000">B.</text>
<text x="166.6" y="299" font-size="12.4" font-weight="bold" fill="#000">C.</text>
<text transform="translate(21.8,116) rotate(-90)" font-size="9" text-anchor="middle" textLength="69.5" lengthAdjust="spacingAndGlyphs">Particle size (nm)</text>
<text transform="translate(362,101.3) rotate(-90)" font-size="9" text-anchor="middle" textLength="68" lengthAdjust="spacingAndGlyphs">Particle size (nm)</text>
<text transform="translate(182.5,380.5) rotate(-90)" font-size="9" text-anchor="middle" textLength="68.3" lengthAdjust="spacingAndGlyphs">Particle size (nm)</text>
<text x="15.1" y="239.2" font-size="9.7" textLength="66" lengthAdjust="spacingAndGlyphs">B: tween80 (%)</text>
<text x="247.3" y="242.5" font-size="9.8" textLength="90.2" lengthAdjust="spacingAndGlyphs">A: Phospholipid (mg)</text>
<text x="360.8" y="238.4" font-size="9.7" textLength="105.4" lengthAdjust="spacingAndGlyphs">C: Sonication time (min)</text>
<text x="587.7" y="242.6" font-size="9.8" textLength="90.4" lengthAdjust="spacingAndGlyphs">A: Phospholipid (mg)</text>
<text x="182.4" y="520.5" font-size="9.7" textLength="104.7" lengthAdjust="spacingAndGlyphs">C: Sonication time (min)</text>
<text x="454.9" y="520.6" font-size="9.7" textLength="66" lengthAdjust="spacingAndGlyphs">B: tween80 (%)</text>
</g>

</g>
</svg>
</body></html>
